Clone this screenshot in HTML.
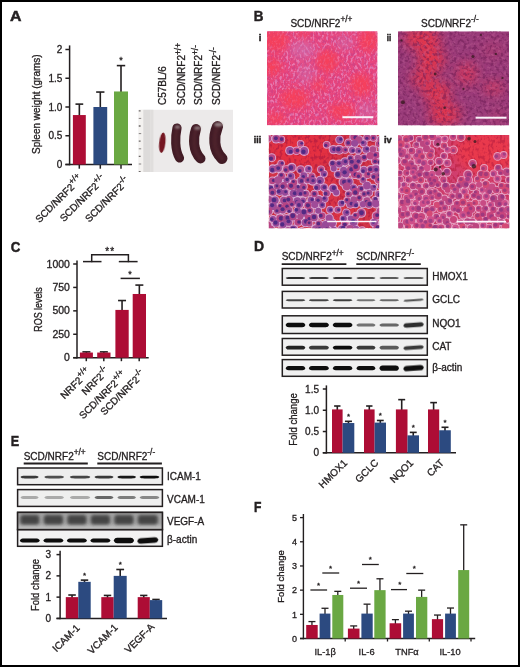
<!DOCTYPE html>
<html><head><meta charset="utf-8"><style>
html,body{margin:0;padding:0;background:#fff;}
#fig{position:relative;width:520px;height:667px;overflow:hidden;}
svg{display:block;font-family:"Liberation Sans", Arial, sans-serif;}
</style></head><body><div id="fig">
<svg width="520" height="667" viewBox="0 0 520 667">
<defs>
<filter id="bb" x="-20%" y="-150%" width="140%" height="400%"><feGaussianBlur stdDeviation="0.55"/></filter>
<filter id="b1" x="-50%" y="-50%" width="200%" height="200%"><feGaussianBlur stdDeviation="0.8"/></filter>
<filter id="b04" x="-20%" y="-20%" width="140%" height="140%"><feGaussianBlur stdDeviation="0.4"/></filter>
<filter id="bsp" filterUnits="userSpaceOnUse" x="130" y="100" width="110" height="80"><feGaussianBlur stdDeviation="0.45"/></filter>
<filter id="bsp2" filterUnits="userSpaceOnUse" x="130" y="100" width="110" height="80"><feGaussianBlur stdDeviation="0.9"/></filter>
<filter id="b05"><feGaussianBlur stdDeviation="0.55"/></filter>
<filter id="bl3" x="-50%" y="-50%" width="200%" height="200%"><feGaussianBlur stdDeviation="6"/></filter>
<filter id="bl2" x="-50%" y="-50%" width="200%" height="200%"><feGaussianBlur stdDeviation="3.5"/></filter>
<filter id="t1d" x="0" y="0" width="100%" height="100%" color-interpolation-filters="sRGB">
 <feTurbulence type="fractalNoise" baseFrequency="0.45 0.3" numOctaves="2" seed="4"/>
 <feColorMatrix type="matrix" values="0 0 0 0 0.72  0 0 0 0 0.25  0 0 0 0 0.55  5 0 0 0 -2.4"/>
</filter>
<filter id="t1l" x="0" y="0" width="100%" height="100%" color-interpolation-filters="sRGB">
 <feTurbulence type="fractalNoise" baseFrequency="0.45 0.3" numOctaves="2" seed="9"/>
 <feColorMatrix type="matrix" values="0 0 0 0 0.92  0 0 0 0 0.68  0 0 0 0 0.88  5 0 0 0 -2.5"/>
</filter>
<filter id="t2d" x="0" y="0" width="100%" height="100%" color-interpolation-filters="sRGB">
 <feTurbulence type="fractalNoise" baseFrequency="0.3" numOctaves="2" seed="7"/>
 <feColorMatrix type="matrix" values="0 0 0 0 0.42  0 0 0 0 0.1  0 0 0 0 0.32  5 0 0 0 -2.4"/>
</filter>
<filter id="t2l" x="0" y="0" width="100%" height="100%" color-interpolation-filters="sRGB">
 <feTurbulence type="fractalNoise" baseFrequency="0.3" numOctaves="2" seed="11"/>
 <feColorMatrix type="matrix" values="0 0 0 0 0.8  0 0 0 0 0.42  0 0 0 0 0.62  5 0 0 0 -2.6"/>
</filter>
<filter id="t3" x="0" y="0" width="100%" height="100%" color-interpolation-filters="sRGB">
 <feTurbulence type="fractalNoise" baseFrequency="0.35 0.25" numOctaves="2" seed="13"/>
 <feColorMatrix type="matrix" values="0 0 0 0 0.72  0 0 0 0 0.12  0 0 0 0 0.25  5 0 0 0 -2.4"/>
</filter>
<clipPath id="cvegf"><rect x="17.6" y="512.4" width="144.8" height="17.2"/></clipPath>
<filter id="b15" x="-30%" y="-50%" width="160%" height="200%"><feGaussianBlur stdDeviation="1.6"/></filter>
<clipPath id="cphoto"><rect x="138.4" y="109.6" width="94.6" height="62.4"/></clipPath>
<clipPath id="ci"><rect x="267" y="31.2" width="110.5" height="94.1"/></clipPath>
<clipPath id="cii"><rect x="398" y="31.3" width="111" height="94.2"/></clipPath>
<clipPath id="ciii"><rect x="268.8" y="134.9" width="110.4" height="93.4"/></clipPath>
<clipPath id="civ"><rect x="398.3" y="134.9" width="111" height="93.4"/></clipPath>
</defs>
<rect x="0" y="0" width="520" height="667" fill="#fff"/>
<text x="10" y="21.2" font-size="15.3" text-anchor="start" font-weight="bold" fill="#231f20" stroke="#231f20" stroke-width="0.5" textLength="11.5" lengthAdjust="spacingAndGlyphs">A</text>
<line x1="69.6" y1="45.4" x2="69.6" y2="165.3" stroke="#231f20" stroke-width="1.5"/>
<line x1="65.4" y1="49.5" x2="69.6" y2="49.5" stroke="#231f20" stroke-width="1.5"/>
<text x="62.3" y="53.1" font-size="10" text-anchor="end" font-weight="normal" fill="#231f20" stroke="#231f20" stroke-width="0.32">2</text>
<line x1="65.4" y1="78.25" x2="69.6" y2="78.25" stroke="#231f20" stroke-width="1.5"/>
<text x="62.3" y="81.85" font-size="10" text-anchor="end" font-weight="normal" fill="#231f20" stroke="#231f20" stroke-width="0.32">1.5</text>
<line x1="65.4" y1="107" x2="69.6" y2="107" stroke="#231f20" stroke-width="1.5"/>
<text x="62.3" y="110.6" font-size="10" text-anchor="end" font-weight="normal" fill="#231f20" stroke="#231f20" stroke-width="0.32">1.0</text>
<line x1="65.4" y1="135.75" x2="69.6" y2="135.75" stroke="#231f20" stroke-width="1.5"/>
<text x="62.3" y="139.35" font-size="10" text-anchor="end" font-weight="normal" fill="#231f20" stroke="#231f20" stroke-width="0.32">0.5</text>
<line x1="65.4" y1="164.5" x2="69.6" y2="164.5" stroke="#231f20" stroke-width="1.5"/>
<text x="62.3" y="168.1" font-size="10" text-anchor="end" font-weight="normal" fill="#231f20" stroke="#231f20" stroke-width="0.32">0</text>
<line x1="65.4" y1="164.5" x2="132" y2="164.5" stroke="#231f20" stroke-width="1.5"/>
<line x1="79.3" y1="164.5" x2="79.3" y2="168.7" stroke="#231f20" stroke-width="1.5"/>
<line x1="100.3" y1="164.5" x2="100.3" y2="168.7" stroke="#231f20" stroke-width="1.5"/>
<line x1="121" y1="164.5" x2="121" y2="168.7" stroke="#231f20" stroke-width="1.5"/>
<line x1="79.35" y1="116.05" x2="79.35" y2="104.12" stroke="#231f20" stroke-width="1.6"/>
<line x1="75.48" y1="104.12" x2="83.22" y2="104.12" stroke="#231f20" stroke-width="1.6"/>
<rect x="72.9" y="115.05" width="12.9" height="49.45" fill="#ad0d35"/>
<line x1="100.3" y1="108" x2="100.3" y2="92.05" stroke="#231f20" stroke-width="1.6"/>
<line x1="96.16" y1="92.05" x2="104.44" y2="92.05" stroke="#231f20" stroke-width="1.6"/>
<rect x="93.4" y="107" width="13.8" height="57.5" fill="#2c4a80"/>
<line x1="121" y1="92.47" x2="121" y2="65.6" stroke="#231f20" stroke-width="1.6"/>
<line x1="116.8" y1="65.6" x2="125.2" y2="65.6" stroke="#231f20" stroke-width="1.6"/>
<rect x="114" y="91.47" width="14" height="73.03" fill="#6aa843"/>
<text x="121" y="63" font-size="9" text-anchor="middle" font-weight="normal" fill="#231f20" stroke="#231f20" stroke-width="0.32">*</text>
<text x="40.3" y="154" font-size="10" text-anchor="start" font-weight="normal" fill="#231f20" stroke="#231f20" stroke-width="0.32" transform="rotate(-90 40.3 154)" textLength="99.5" lengthAdjust="spacingAndGlyphs">Spleen weight (grams)</text>
<text x="39.5" y="223.2" font-size="10" text-anchor="start" font-weight="normal" fill="#231f20" stroke="#231f20" stroke-width="0.32" transform="rotate(-45 39.5 223.2)">SCD/NRF2<tspan dy="-4.5" font-size="8.3">+/+</tspan></text>
<text x="63.9" y="222.2" font-size="10" text-anchor="start" font-weight="normal" fill="#231f20" stroke="#231f20" stroke-width="0.32" transform="rotate(-45 63.9 222.2)">SCD/NRF2<tspan dy="-4.5" font-size="8.3">+/-</tspan></text>
<text x="89.2" y="222.7" font-size="10" text-anchor="start" font-weight="normal" fill="#231f20" stroke="#231f20" stroke-width="0.32" transform="rotate(-45 89.2 222.7)">SCD/NRF2<tspan dy="-4.5" font-size="8.3">-/-</tspan></text>
<text x="166.3" y="105" font-size="10" text-anchor="start" font-weight="normal" fill="#231f20" stroke="#231f20" stroke-width="0.32" transform="rotate(-90 166.3 105)">C57BL/6</text>
<text x="185.2" y="105" font-size="10" text-anchor="start" font-weight="normal" fill="#231f20" stroke="#231f20" stroke-width="0.32" transform="rotate(-90 185.2 105)">SCD/NRF2<tspan dy="-4.5" font-size="8.3">+/+</tspan></text>
<text x="202.2" y="105" font-size="10" text-anchor="start" font-weight="normal" fill="#231f20" stroke="#231f20" stroke-width="0.32" transform="rotate(-90 202.2 105)">SCD/NRF2<tspan dy="-4.5" font-size="8.3">+/-</tspan></text>
<text x="220.2" y="105" font-size="10" text-anchor="start" font-weight="normal" fill="#231f20" stroke="#231f20" stroke-width="0.32" transform="rotate(-90 220.2 105)">SCD/NRF2<tspan dy="-4.5" font-size="8.3">-/-</tspan></text>
<g clip-path="url(#cphoto)">
<rect x="138.4" y="109.6" width="94.6" height="62.4" fill="#eceaea"/>
<rect x="138.4" y="109.6" width="5" height="62.4" fill="#f4f2f0"/>
<rect x="143.4" y="109.6" width="7" height="62.4" fill="#dddbda"/>
<rect x="150.4" y="109.6" width="3" height="62.4" fill="#e0dedd"/>
<line x1="138.6" y1="110.8" x2="140.6" y2="110.8" stroke="#6a6666" stroke-width="1.3"/>
<line x1="138.6" y1="118.4" x2="141.2" y2="118.4" stroke="#6a6666" stroke-width="0.8"/>
<line x1="138.6" y1="126" x2="140.6" y2="126" stroke="#6a6666" stroke-width="1.3"/>
<line x1="138.6" y1="133.6" x2="141.2" y2="133.6" stroke="#6a6666" stroke-width="0.8"/>
<line x1="138.6" y1="141.2" x2="140.6" y2="141.2" stroke="#6a6666" stroke-width="1.3"/>
<line x1="138.6" y1="148.8" x2="141.2" y2="148.8" stroke="#6a6666" stroke-width="0.8"/>
<line x1="138.6" y1="156.4" x2="140.6" y2="156.4" stroke="#6a6666" stroke-width="1.3"/>
<line x1="138.6" y1="164" x2="141.2" y2="164" stroke="#6a6666" stroke-width="0.8"/>
<line x1="138.6" y1="171.6" x2="140.6" y2="171.6" stroke="#6a6666" stroke-width="1.3"/>
</g>
<ellipse cx="162.3" cy="142.7" rx="3.1" ry="10.3" transform="rotate(6 162.3 142.7)" fill="#741820" filter="url(#b04)"/>
<path d="M177,128 C175,137 174.8,150 179.5,158" fill="none" stroke="#431d25" stroke-width="9.2" stroke-linecap="round" filter="url(#bsp)"/>
<path d="M177,128 C175,137 174.8,150 179.5,158" fill="none" stroke="#5a2a32" stroke-width="3.2199999999999998" stroke-linecap="round" opacity="0.5" filter="url(#bsp2)"/>
<path d="M196,129 C193,138 192.8,151 200.5,158.5" fill="none" stroke="#431d25" stroke-width="10" stroke-linecap="round" filter="url(#bsp)"/>
<path d="M196,129 C193,138 192.8,151 200.5,158.5" fill="none" stroke="#5a2a32" stroke-width="3.5" stroke-linecap="round" opacity="0.5" filter="url(#bsp2)"/>
<path d="M217.5,126.5 C213.5,136 213,150 222,158.5" fill="none" stroke="#431d25" stroke-width="11" stroke-linecap="round" filter="url(#bsp)"/>
<path d="M217.5,126.5 C213.5,136 213,150 222,158.5" fill="none" stroke="#5a2a32" stroke-width="3.8499999999999996" stroke-linecap="round" opacity="0.5" filter="url(#bsp2)"/>
<ellipse cx="177.5" cy="127" rx="2.8" ry="1.6" fill="#a89a9c" opacity="0.8" filter="url(#b1)"/>
<ellipse cx="197.5" cy="128" rx="3.3" ry="1.6" fill="#a89a9c" opacity="0.8" filter="url(#b1)"/>
<ellipse cx="218.5" cy="124.5" rx="4.2" ry="2" fill="#a89a9c" opacity="0.8" filter="url(#b1)"/>
<text x="253.8" y="21.2" font-size="15.3" text-anchor="start" font-weight="bold" fill="#231f20" stroke="#231f20" stroke-width="0.5" textLength="9.7" lengthAdjust="spacingAndGlyphs">B</text>
<text x="290.4" y="26.6" font-size="10" text-anchor="start" font-weight="normal" fill="#231f20" stroke="#231f20" stroke-width="0.32">SCD/NRF2<tspan dy="-4.5" font-size="8.3">+/+</tspan></text>
<text x="421" y="26.6" font-size="10" text-anchor="start" font-weight="normal" fill="#231f20" stroke="#231f20" stroke-width="0.32">SCD/NRF2<tspan dy="-4.5" font-size="8.3">-/-</tspan></text>
<text x="258.7" y="40.7" font-size="9.3" text-anchor="start" font-weight="bold" fill="#231f20" stroke="#231f20" stroke-width="0.5">i</text>
<text x="386.8" y="40.7" font-size="9.3" text-anchor="start" font-weight="bold" fill="#231f20" stroke="#231f20" stroke-width="0.5" textLength="4.4" lengthAdjust="spacingAndGlyphs">ii</text>
<text x="253.8" y="142.8" font-size="9.3" text-anchor="start" font-weight="bold" fill="#231f20" stroke="#231f20" stroke-width="0.5" textLength="7.3" lengthAdjust="spacingAndGlyphs">iii</text>
<text x="384" y="142.8" font-size="9.3" text-anchor="start" font-weight="bold" fill="#231f20" stroke="#231f20" stroke-width="0.5" textLength="7.7" lengthAdjust="spacingAndGlyphs">iv</text>
<g clip-path="url(#ci)">
<rect x="267" y="31.2" width="110.5" height="94.1" fill="#e8467e"/>
<rect x="267" y="31.2" width="110.5" height="94.1" filter="url(#t1d)" opacity="0.3"/>
<rect x="267" y="31.2" width="110.5" height="94.1" filter="url(#t1l)" opacity="0.42"/>
<g filter="url(#bl2)">
<ellipse cx="275.84" cy="40.61" rx="13.26" ry="11.29" fill="#f6405c" opacity="1"/>
<ellipse cx="368.66" cy="40.61" rx="9.95" ry="11.29" fill="#f6405c" opacity="1"/>
<ellipse cx="272.52" cy="66.96" rx="8.84" ry="9.41" fill="#f6405c" opacity="1"/>
<ellipse cx="327.77" cy="61.31" rx="11.05" ry="11.29" fill="#f6405c" opacity="1"/>
<ellipse cx="360.93" cy="84.84" rx="11.05" ry="11.29" fill="#f6405c" opacity="1"/>
<ellipse cx="294.62" cy="98.95" rx="14.37" ry="10.35" fill="#f6405c" opacity="1"/>
<ellipse cx="318.94" cy="84.84" rx="7.74" ry="6.59" fill="#f6405c" opacity="0.9"/>
<ellipse cx="342.14" cy="111.19" rx="13.26" ry="8.47" fill="#f6405c" opacity="1"/>
<ellipse cx="275.84" cy="118.71" rx="11.05" ry="6.59" fill="#f6405c" opacity="0.9"/>
<ellipse cx="303.47" cy="34.96" rx="7.74" ry="4.71" fill="#f6405c" opacity="0.8"/>
<ellipse cx="302.36" cy="50.02" rx="13.26" ry="9.41" fill="#d070b0" opacity="0.6"/>
<ellipse cx="305.68" cy="73.55" rx="8.84" ry="9.41" fill="#d070b0" opacity="0.5"/>
<ellipse cx="344.35" cy="42.49" rx="8.84" ry="6.59" fill="#d070b0" opacity="0.5"/>
<ellipse cx="366.45" cy="111.19" rx="8.84" ry="9.41" fill="#d070b0" opacity="0.5"/>
</g>
<rect x="267" y="31.2" width="110.5" height="94.1" filter="url(#t1l)" opacity="0.18"/>
<rect x="267" y="31.2" width="110.5" height="94.1" filter="url(#t1d)" opacity="0.15"/>
</g>
<g clip-path="url(#cii)">
<rect x="398" y="31.3" width="111" height="94.2" fill="#9a3c7a"/>
<g filter="url(#bl3)">
<ellipse cx="422.42" cy="38.84" rx="17.76" ry="11.3" fill="#e0344e" opacity="1"/>
<ellipse cx="431.3" cy="59.56" rx="13.32" ry="13.19" fill="#e0344e" opacity="1"/>
<ellipse cx="422.42" cy="78.4" rx="11.1" ry="9.42" fill="#e0344e" opacity="0.9"/>
<ellipse cx="436.85" cy="92.53" rx="13.32" ry="11.3" fill="#e0344e" opacity="1"/>
<ellipse cx="444.62" cy="114.2" rx="15.54" ry="11.3" fill="#e0344e" opacity="1"/>
<ellipse cx="466.82" cy="73.69" rx="9.99" ry="11.3" fill="#d8385a" opacity="0.9"/>
<ellipse cx="493.46" cy="87.82" rx="9.99" ry="6.59" fill="#d8385a" opacity="0.85"/>
<ellipse cx="497.9" cy="116.08" rx="6.66" ry="7.54" fill="#c83a60" opacity="0.4"/>
<ellipse cx="492.35" cy="50.14" rx="11.1" ry="7.54" fill="#b83a6a" opacity="0.5"/>
</g>
<rect x="398" y="31.3" width="111" height="94.2" filter="url(#t2d)" opacity="0.5"/>
<rect x="398" y="31.3" width="111" height="94.2" filter="url(#t2l)" opacity="0.3"/>
</g>
<g clip-path="url(#ciii)">
<rect x="268.8" y="134.9" width="110.4" height="93.4" fill="#d23448"/>
<g filter="url(#bl3)">
<ellipse cx="301.92" cy="149.84" rx="33.12" ry="18.68" fill="#e83040" opacity="0.85"/>
<ellipse cx="329.52" cy="186.27" rx="11.04" ry="14.01" fill="#e43444" opacity="0.6"/>
<ellipse cx="340.56" cy="214.29" rx="16.56" ry="11.21" fill="#e43444" opacity="0.6"/>
</g>
<rect x="268.8" y="134.9" width="110.4" height="93.4" filter="url(#t3)" opacity="0.8"/>
<g filter="url(#b05)">
<circle cx="267.88" cy="138.45" r="4.17" fill="#dcb8e4" opacity="0.85"/>
<circle cx="276.16" cy="138.74" r="4.81" fill="#dcb8e4" opacity="0.85"/>
<circle cx="281.1" cy="139.48" r="4.07" fill="#dcb8e4" opacity="0.85"/>
<circle cx="339.55" cy="139.77" r="4.3" fill="#dcb8e4" opacity="0.85"/>
<circle cx="354.13" cy="136.89" r="4.86" fill="#dcb8e4" opacity="0.85"/>
<circle cx="358.81" cy="139.93" r="4.75" fill="#dcb8e4" opacity="0.85"/>
<circle cx="367.24" cy="137.6" r="4.09" fill="#dcb8e4" opacity="0.85"/>
<circle cx="373.4" cy="137.78" r="4.02" fill="#dcb8e4" opacity="0.85"/>
<circle cx="381.09" cy="139.71" r="4.75" fill="#dcb8e4" opacity="0.85"/>
<circle cx="300.56" cy="143.64" r="3.71" fill="#dcb8e4" opacity="0.85"/>
<circle cx="326.7" cy="144.79" r="3.87" fill="#dcb8e4" opacity="0.85"/>
<circle cx="348.63" cy="142.91" r="4.39" fill="#dcb8e4" opacity="0.85"/>
<circle cx="354.66" cy="143.33" r="4.4" fill="#dcb8e4" opacity="0.85"/>
<circle cx="363.69" cy="143.19" r="3.92" fill="#dcb8e4" opacity="0.85"/>
<circle cx="378.69" cy="143.96" r="3.76" fill="#dcb8e4" opacity="0.85"/>
<circle cx="384.37" cy="144.89" r="3.97" fill="#dcb8e4" opacity="0.85"/>
<circle cx="289.87" cy="150.65" r="4.7" fill="#dcb8e4" opacity="0.85"/>
<circle cx="296.5" cy="150.76" r="4.31" fill="#dcb8e4" opacity="0.85"/>
<circle cx="304.21" cy="150.94" r="4.98" fill="#dcb8e4" opacity="0.85"/>
<circle cx="333.42" cy="149.61" r="4.72" fill="#dcb8e4" opacity="0.85"/>
<circle cx="339.12" cy="149.85" r="4.98" fill="#dcb8e4" opacity="0.85"/>
<circle cx="345.14" cy="150.02" r="3.75" fill="#dcb8e4" opacity="0.85"/>
<circle cx="352.1" cy="150.05" r="3.94" fill="#dcb8e4" opacity="0.85"/>
<circle cx="358.14" cy="150.72" r="3.72" fill="#dcb8e4" opacity="0.85"/>
<circle cx="366.14" cy="149.51" r="4.26" fill="#dcb8e4" opacity="0.85"/>
<circle cx="372.89" cy="149.39" r="4.14" fill="#dcb8e4" opacity="0.85"/>
<circle cx="381.49" cy="149.09" r="3.77" fill="#dcb8e4" opacity="0.85"/>
<circle cx="271.72" cy="157.74" r="4.41" fill="#dcb8e4" opacity="0.85"/>
<circle cx="350.63" cy="158.27" r="3.82" fill="#dcb8e4" opacity="0.85"/>
<circle cx="357.88" cy="158.07" r="4.11" fill="#dcb8e4" opacity="0.85"/>
<circle cx="364.16" cy="157.75" r="4.02" fill="#dcb8e4" opacity="0.85"/>
<circle cx="370.37" cy="155.83" r="4.75" fill="#dcb8e4" opacity="0.85"/>
<circle cx="376.35" cy="155.06" r="4.25" fill="#dcb8e4" opacity="0.85"/>
<circle cx="383.55" cy="157.66" r="4.04" fill="#dcb8e4" opacity="0.85"/>
<circle cx="281.1" cy="163.52" r="3.76" fill="#dcb8e4" opacity="0.85"/>
<circle cx="332.87" cy="163.79" r="4.26" fill="#dcb8e4" opacity="0.85"/>
<circle cx="339.25" cy="163.93" r="4.52" fill="#dcb8e4" opacity="0.85"/>
<circle cx="345" cy="161.85" r="4.58" fill="#dcb8e4" opacity="0.85"/>
<circle cx="352.53" cy="162.57" r="4.89" fill="#dcb8e4" opacity="0.85"/>
<circle cx="358.06" cy="161.1" r="4.75" fill="#dcb8e4" opacity="0.85"/>
<circle cx="375.04" cy="161.21" r="4.02" fill="#dcb8e4" opacity="0.85"/>
<circle cx="380.16" cy="162.01" r="3.88" fill="#dcb8e4" opacity="0.85"/>
<circle cx="272.81" cy="169.05" r="4.69" fill="#dcb8e4" opacity="0.85"/>
<circle cx="278.22" cy="168.15" r="4.73" fill="#dcb8e4" opacity="0.85"/>
<circle cx="286.49" cy="169.51" r="4.36" fill="#dcb8e4" opacity="0.85"/>
<circle cx="291.83" cy="167.62" r="4.78" fill="#dcb8e4" opacity="0.85"/>
<circle cx="300.67" cy="169.74" r="4.42" fill="#dcb8e4" opacity="0.85"/>
<circle cx="308.35" cy="169.18" r="4.06" fill="#dcb8e4" opacity="0.85"/>
<circle cx="321.02" cy="169.43" r="3.92" fill="#dcb8e4" opacity="0.85"/>
<circle cx="333.8" cy="168.49" r="3.72" fill="#dcb8e4" opacity="0.85"/>
<circle cx="343.63" cy="170.28" r="4.54" fill="#dcb8e4" opacity="0.85"/>
<circle cx="350.69" cy="169.77" r="4.87" fill="#dcb8e4" opacity="0.85"/>
<circle cx="356.17" cy="167.43" r="4.88" fill="#dcb8e4" opacity="0.85"/>
<circle cx="363.87" cy="170.11" r="4.31" fill="#dcb8e4" opacity="0.85"/>
<circle cx="370.89" cy="169.57" r="4.57" fill="#dcb8e4" opacity="0.85"/>
<circle cx="375.91" cy="169.06" r="4.91" fill="#dcb8e4" opacity="0.85"/>
<circle cx="383.05" cy="169.71" r="4.76" fill="#dcb8e4" opacity="0.85"/>
<circle cx="281.47" cy="176.04" r="4.49" fill="#dcb8e4" opacity="0.85"/>
<circle cx="290.98" cy="176.42" r="4.24" fill="#dcb8e4" opacity="0.85"/>
<circle cx="303.84" cy="175.59" r="4.38" fill="#dcb8e4" opacity="0.85"/>
<circle cx="311.67" cy="176.36" r="3.92" fill="#dcb8e4" opacity="0.85"/>
<circle cx="323.9" cy="173.72" r="3.94" fill="#dcb8e4" opacity="0.85"/>
<circle cx="338.34" cy="174.48" r="4.59" fill="#dcb8e4" opacity="0.85"/>
<circle cx="345.51" cy="173.38" r="4.99" fill="#dcb8e4" opacity="0.85"/>
<circle cx="354.46" cy="174.53" r="4.41" fill="#dcb8e4" opacity="0.85"/>
<circle cx="358.61" cy="175.51" r="4.23" fill="#dcb8e4" opacity="0.85"/>
<circle cx="367.41" cy="174.9" r="4.16" fill="#dcb8e4" opacity="0.85"/>
<circle cx="374.3" cy="176.23" r="4.29" fill="#dcb8e4" opacity="0.85"/>
<circle cx="379.39" cy="175.71" r="4.75" fill="#dcb8e4" opacity="0.85"/>
<circle cx="272.36" cy="180.73" r="4.29" fill="#dcb8e4" opacity="0.85"/>
<circle cx="278.2" cy="180.12" r="4.95" fill="#dcb8e4" opacity="0.85"/>
<circle cx="286.6" cy="180.28" r="3.9" fill="#dcb8e4" opacity="0.85"/>
<circle cx="293.97" cy="182.52" r="4.11" fill="#dcb8e4" opacity="0.85"/>
<circle cx="301.02" cy="180.63" r="4.38" fill="#dcb8e4" opacity="0.85"/>
<circle cx="307.6" cy="180.12" r="4.24" fill="#dcb8e4" opacity="0.85"/>
<circle cx="312.63" cy="180.86" r="4.81" fill="#dcb8e4" opacity="0.85"/>
<circle cx="320.15" cy="180.44" r="4.78" fill="#dcb8e4" opacity="0.85"/>
<circle cx="343.47" cy="182.06" r="4.92" fill="#dcb8e4" opacity="0.85"/>
<circle cx="349.23" cy="181.7" r="4.5" fill="#dcb8e4" opacity="0.85"/>
<circle cx="363.19" cy="179.98" r="3.74" fill="#dcb8e4" opacity="0.85"/>
<circle cx="378.54" cy="180.03" r="4.45" fill="#dcb8e4" opacity="0.85"/>
<circle cx="383.46" cy="179.84" r="4.42" fill="#dcb8e4" opacity="0.85"/>
<circle cx="270.06" cy="188.42" r="4.34" fill="#dcb8e4" opacity="0.85"/>
<circle cx="277.08" cy="186.37" r="4.06" fill="#dcb8e4" opacity="0.85"/>
<circle cx="283.6" cy="185.57" r="4.63" fill="#dcb8e4" opacity="0.85"/>
<circle cx="290.97" cy="186.29" r="4.89" fill="#dcb8e4" opacity="0.85"/>
<circle cx="297.08" cy="187.63" r="3.83" fill="#dcb8e4" opacity="0.85"/>
<circle cx="303.22" cy="186.8" r="4.57" fill="#dcb8e4" opacity="0.85"/>
<circle cx="317.42" cy="187.18" r="4.18" fill="#dcb8e4" opacity="0.85"/>
<circle cx="324.01" cy="187.6" r="4.37" fill="#dcb8e4" opacity="0.85"/>
<circle cx="333.16" cy="188.45" r="4.87" fill="#dcb8e4" opacity="0.85"/>
<circle cx="346.7" cy="186.3" r="4.95" fill="#dcb8e4" opacity="0.85"/>
<circle cx="353.34" cy="188.09" r="4.54" fill="#dcb8e4" opacity="0.85"/>
<circle cx="360.69" cy="188.63" r="3.95" fill="#dcb8e4" opacity="0.85"/>
<circle cx="366.93" cy="185.67" r="4.9" fill="#dcb8e4" opacity="0.85"/>
<circle cx="373.28" cy="187.78" r="3.94" fill="#dcb8e4" opacity="0.85"/>
<circle cx="381.03" cy="185.91" r="4.2" fill="#dcb8e4" opacity="0.85"/>
<circle cx="272.76" cy="191.99" r="4.78" fill="#dcb8e4" opacity="0.85"/>
<circle cx="279.84" cy="191.79" r="4.11" fill="#dcb8e4" opacity="0.85"/>
<circle cx="285.04" cy="192.52" r="4.05" fill="#dcb8e4" opacity="0.85"/>
<circle cx="293.64" cy="193.3" r="4.94" fill="#dcb8e4" opacity="0.85"/>
<circle cx="300.15" cy="192.45" r="4.93" fill="#dcb8e4" opacity="0.85"/>
<circle cx="305.79" cy="193.87" r="4.11" fill="#dcb8e4" opacity="0.85"/>
<circle cx="314.45" cy="193.95" r="4.21" fill="#dcb8e4" opacity="0.85"/>
<circle cx="326.7" cy="193.13" r="4.07" fill="#dcb8e4" opacity="0.85"/>
<circle cx="336.24" cy="192.6" r="3.87" fill="#dcb8e4" opacity="0.85"/>
<circle cx="348.79" cy="194.32" r="4.03" fill="#dcb8e4" opacity="0.85"/>
<circle cx="355.5" cy="191.71" r="4.98" fill="#dcb8e4" opacity="0.85"/>
<circle cx="364.28" cy="193.91" r="3.8" fill="#dcb8e4" opacity="0.85"/>
<circle cx="369.21" cy="192.82" r="4" fill="#dcb8e4" opacity="0.85"/>
<circle cx="378.41" cy="193.98" r="3.96" fill="#dcb8e4" opacity="0.85"/>
<circle cx="383.06" cy="192.75" r="3.8" fill="#dcb8e4" opacity="0.85"/>
<circle cx="268.9" cy="199.44" r="4.39" fill="#dcb8e4" opacity="0.85"/>
<circle cx="274.93" cy="200.19" r="4.67" fill="#dcb8e4" opacity="0.85"/>
<circle cx="283.86" cy="200.57" r="4.79" fill="#dcb8e4" opacity="0.85"/>
<circle cx="289.39" cy="199.38" r="4.52" fill="#dcb8e4" opacity="0.85"/>
<circle cx="297.27" cy="200.87" r="4.77" fill="#dcb8e4" opacity="0.85"/>
<circle cx="303.1" cy="200.46" r="3.71" fill="#dcb8e4" opacity="0.85"/>
<circle cx="311.15" cy="199.99" r="4.07" fill="#dcb8e4" opacity="0.85"/>
<circle cx="318.75" cy="199.77" r="4.95" fill="#dcb8e4" opacity="0.85"/>
<circle cx="324.88" cy="199.06" r="3.79" fill="#dcb8e4" opacity="0.85"/>
<circle cx="347.41" cy="200.57" r="4.05" fill="#dcb8e4" opacity="0.85"/>
<circle cx="353.82" cy="199.63" r="4.33" fill="#dcb8e4" opacity="0.85"/>
<circle cx="359.31" cy="198.27" r="4.05" fill="#dcb8e4" opacity="0.85"/>
<circle cx="366.94" cy="200.7" r="4.41" fill="#dcb8e4" opacity="0.85"/>
<circle cx="375.1" cy="199.88" r="3.76" fill="#dcb8e4" opacity="0.85"/>
<circle cx="382.05" cy="199.55" r="4.01" fill="#dcb8e4" opacity="0.85"/>
<circle cx="273.06" cy="206.13" r="4.95" fill="#dcb8e4" opacity="0.85"/>
<circle cx="280.37" cy="206.8" r="3.89" fill="#dcb8e4" opacity="0.85"/>
<circle cx="286.08" cy="206.19" r="4.88" fill="#dcb8e4" opacity="0.85"/>
<circle cx="291.93" cy="203.69" r="3.93" fill="#dcb8e4" opacity="0.85"/>
<circle cx="299.25" cy="204.1" r="5" fill="#dcb8e4" opacity="0.85"/>
<circle cx="308" cy="205.42" r="4.58" fill="#dcb8e4" opacity="0.85"/>
<circle cx="314.82" cy="204.61" r="4.54" fill="#dcb8e4" opacity="0.85"/>
<circle cx="322.2" cy="204.95" r="3.88" fill="#dcb8e4" opacity="0.85"/>
<circle cx="341.33" cy="203.55" r="3.77" fill="#dcb8e4" opacity="0.85"/>
<circle cx="350.29" cy="204.04" r="4.69" fill="#dcb8e4" opacity="0.85"/>
<circle cx="355.23" cy="204.27" r="3.93" fill="#dcb8e4" opacity="0.85"/>
<circle cx="362.96" cy="204.13" r="3.95" fill="#dcb8e4" opacity="0.85"/>
<circle cx="368.94" cy="204.13" r="4.77" fill="#dcb8e4" opacity="0.85"/>
<circle cx="375.76" cy="203.62" r="4.84" fill="#dcb8e4" opacity="0.85"/>
<circle cx="383.98" cy="206" r="3.76" fill="#dcb8e4" opacity="0.85"/>
<circle cx="268.46" cy="211.02" r="4.95" fill="#dcb8e4" opacity="0.85"/>
<circle cx="277.43" cy="210.4" r="4.4" fill="#dcb8e4" opacity="0.85"/>
<circle cx="282.71" cy="210.21" r="4.2" fill="#dcb8e4" opacity="0.85"/>
<circle cx="289.26" cy="210.06" r="3.84" fill="#dcb8e4" opacity="0.85"/>
<circle cx="297.6" cy="210.59" r="4.21" fill="#dcb8e4" opacity="0.85"/>
<circle cx="303.68" cy="212.9" r="4.99" fill="#dcb8e4" opacity="0.85"/>
<circle cx="309.92" cy="210.56" r="4.07" fill="#dcb8e4" opacity="0.85"/>
<circle cx="318.25" cy="210.84" r="3.87" fill="#dcb8e4" opacity="0.85"/>
<circle cx="330.06" cy="209.74" r="3.89" fill="#dcb8e4" opacity="0.85"/>
<circle cx="337.65" cy="209.76" r="3.86" fill="#dcb8e4" opacity="0.85"/>
<circle cx="346.34" cy="212.78" r="4.16" fill="#dcb8e4" opacity="0.85"/>
<circle cx="361.26" cy="212.92" r="4.89" fill="#dcb8e4" opacity="0.85"/>
<circle cx="379.45" cy="210.99" r="3.8" fill="#dcb8e4" opacity="0.85"/>
<circle cx="272.93" cy="218.97" r="3.95" fill="#dcb8e4" opacity="0.85"/>
<circle cx="280.14" cy="218.29" r="4.93" fill="#dcb8e4" opacity="0.85"/>
<circle cx="286.49" cy="218.95" r="5" fill="#dcb8e4" opacity="0.85"/>
<circle cx="293" cy="216.52" r="4.98" fill="#dcb8e4" opacity="0.85"/>
<circle cx="300.23" cy="216.66" r="4.02" fill="#dcb8e4" opacity="0.85"/>
<circle cx="308.07" cy="217.84" r="4.16" fill="#dcb8e4" opacity="0.85"/>
<circle cx="313.9" cy="217.42" r="4.94" fill="#dcb8e4" opacity="0.85"/>
<circle cx="322.04" cy="215.8" r="4.33" fill="#dcb8e4" opacity="0.85"/>
<circle cx="329.2" cy="218.09" r="4.62" fill="#dcb8e4" opacity="0.85"/>
<circle cx="343.62" cy="218.77" r="4.11" fill="#dcb8e4" opacity="0.85"/>
<circle cx="350.69" cy="218.29" r="3.73" fill="#dcb8e4" opacity="0.85"/>
<circle cx="355.85" cy="215.97" r="4.15" fill="#dcb8e4" opacity="0.85"/>
<circle cx="376.39" cy="215.89" r="4.68" fill="#dcb8e4" opacity="0.85"/>
<circle cx="384.81" cy="217.77" r="4.72" fill="#dcb8e4" opacity="0.85"/>
<circle cx="267.85" cy="225.2" r="4.44" fill="#dcb8e4" opacity="0.85"/>
<circle cx="276.02" cy="223.28" r="4.31" fill="#dcb8e4" opacity="0.85"/>
<circle cx="283.17" cy="224.57" r="4.4" fill="#dcb8e4" opacity="0.85"/>
<circle cx="288.71" cy="222.43" r="4.28" fill="#dcb8e4" opacity="0.85"/>
<circle cx="297.94" cy="222.2" r="4.4" fill="#dcb8e4" opacity="0.85"/>
<circle cx="305.43" cy="222.51" r="4.79" fill="#dcb8e4" opacity="0.85"/>
<circle cx="309.35" cy="223.44" r="3.96" fill="#dcb8e4" opacity="0.85"/>
<circle cx="318.95" cy="223.96" r="4.48" fill="#dcb8e4" opacity="0.85"/>
<circle cx="325.71" cy="224.86" r="4.92" fill="#dcb8e4" opacity="0.85"/>
<circle cx="332.16" cy="223.37" r="4.81" fill="#dcb8e4" opacity="0.85"/>
<circle cx="344.77" cy="223.7" r="3.93" fill="#dcb8e4" opacity="0.85"/>
<circle cx="353.6" cy="222.08" r="4.96" fill="#dcb8e4" opacity="0.85"/>
<circle cx="374.17" cy="222.56" r="4.8" fill="#dcb8e4" opacity="0.85"/>
<circle cx="382.54" cy="222.98" r="3.92" fill="#dcb8e4" opacity="0.85"/>
<circle cx="270.84" cy="228.66" r="4.05" fill="#dcb8e4" opacity="0.85"/>
<circle cx="280.81" cy="230.44" r="3.96" fill="#dcb8e4" opacity="0.85"/>
<circle cx="288" cy="230.04" r="3.77" fill="#dcb8e4" opacity="0.85"/>
<circle cx="293.43" cy="229.37" r="4.98" fill="#dcb8e4" opacity="0.85"/>
<circle cx="301.71" cy="231.22" r="4.23" fill="#dcb8e4" opacity="0.85"/>
<circle cx="315.77" cy="228.92" r="4.84" fill="#dcb8e4" opacity="0.85"/>
<circle cx="320.2" cy="228.24" r="3.85" fill="#dcb8e4" opacity="0.85"/>
<circle cx="327.58" cy="229.72" r="3.72" fill="#dcb8e4" opacity="0.85"/>
<circle cx="333.69" cy="230.51" r="4.83" fill="#dcb8e4" opacity="0.85"/>
<circle cx="342.06" cy="229.11" r="4.74" fill="#dcb8e4" opacity="0.85"/>
<circle cx="350.16" cy="228.91" r="4.99" fill="#dcb8e4" opacity="0.85"/>
<circle cx="355.6" cy="229.34" r="4.59" fill="#dcb8e4" opacity="0.85"/>
<circle cx="362.09" cy="230.57" r="4.38" fill="#dcb8e4" opacity="0.85"/>
<circle cx="376.85" cy="228.46" r="4.7" fill="#dcb8e4" opacity="0.85"/>
<circle cx="384.17" cy="229.74" r="3.82" fill="#dcb8e4" opacity="0.85"/>
<circle cx="267.88" cy="138.45" r="3.26" fill="#b84484"/>
<circle cx="267.46" cy="138.67" r="1.61" fill="#3e2480" opacity="0.8"/>
<circle cx="276.16" cy="138.74" r="3.76" fill="#b0488a"/>
<circle cx="275.86" cy="138.3" r="1.96" fill="#3e2480" opacity="0.8"/>
<circle cx="281.1" cy="139.48" r="3.18" fill="#b84484"/>
<circle cx="281.63" cy="139.11" r="1.87" fill="#3e2480" opacity="0.8"/>
<circle cx="339.55" cy="139.77" r="3.36" fill="#984898"/>
<circle cx="340.69" cy="139.22" r="1.6" fill="#3e2480" opacity="0.8"/>
<circle cx="354.13" cy="136.89" r="3.79" fill="#b84484"/>
<circle cx="355.32" cy="137.44" r="1.9" fill="#3e2480" opacity="0.8"/>
<circle cx="358.81" cy="139.93" r="3.71" fill="#b0488a"/>
<circle cx="367.24" cy="137.6" r="3.19" fill="#b0488a"/>
<circle cx="366.85" cy="138.3" r="1.55" fill="#3e2480" opacity="0.8"/>
<circle cx="373.4" cy="137.78" r="3.14" fill="#b84484"/>
<circle cx="373.26" cy="138.06" r="1.46" fill="#3e2480" opacity="0.8"/>
<circle cx="381.09" cy="139.71" r="3.71" fill="#b0488a"/>
<circle cx="381.36" cy="139.21" r="1.85" fill="#3e2480" opacity="0.8"/>
<circle cx="300.56" cy="143.64" r="2.9" fill="#b0488a"/>
<circle cx="301.71" cy="143.32" r="1.43" fill="#3e2480" opacity="0.8"/>
<circle cx="326.7" cy="144.79" r="3.02" fill="#b84484"/>
<circle cx="325.79" cy="145.35" r="1.6" fill="#3e2480" opacity="0.8"/>
<circle cx="348.63" cy="142.91" r="3.43" fill="#b84484"/>
<circle cx="348.16" cy="142.92" r="1.82" fill="#3e2480" opacity="0.8"/>
<circle cx="354.66" cy="143.33" r="3.44" fill="#984898"/>
<circle cx="363.69" cy="143.19" r="3.06" fill="#a04c98"/>
<circle cx="362.84" cy="142.51" r="1.6" fill="#3e2480" opacity="0.8"/>
<circle cx="378.69" cy="143.96" r="2.94" fill="#b84484"/>
<circle cx="379.61" cy="143.26" r="1.58" fill="#3e2480" opacity="0.8"/>
<circle cx="384.37" cy="144.89" r="3.1" fill="#a84c90"/>
<circle cx="384.46" cy="145.9" r="1.73" fill="#3e2480" opacity="0.8"/>
<circle cx="289.87" cy="150.65" r="3.68" fill="#984898"/>
<circle cx="290.68" cy="151.64" r="1.98" fill="#3e2480" opacity="0.8"/>
<circle cx="296.5" cy="150.76" r="3.37" fill="#b84484"/>
<circle cx="297.42" cy="150.47" r="1.83" fill="#3e2480" opacity="0.8"/>
<circle cx="304.21" cy="150.94" r="3.89" fill="#984898"/>
<circle cx="303.46" cy="151.72" r="2.22" fill="#3e2480" opacity="0.8"/>
<circle cx="333.42" cy="149.61" r="3.69" fill="#a04c98"/>
<circle cx="334.13" cy="149.33" r="2.02" fill="#3e2480" opacity="0.8"/>
<circle cx="339.12" cy="149.85" r="3.89" fill="#a84c90"/>
<circle cx="338.26" cy="149.14" r="2.24" fill="#3e2480" opacity="0.8"/>
<circle cx="345.14" cy="150.02" r="2.93" fill="#b84484"/>
<circle cx="345.53" cy="149.87" r="1.37" fill="#3e2480" opacity="0.8"/>
<circle cx="352.1" cy="150.05" r="3.08" fill="#a04c98"/>
<circle cx="353.01" cy="150.64" r="1.58" fill="#3e2480" opacity="0.8"/>
<circle cx="358.14" cy="150.72" r="2.9" fill="#a04c98"/>
<circle cx="359.13" cy="151.04" r="1.36" fill="#3e2480" opacity="0.8"/>
<circle cx="366.14" cy="149.51" r="3.33" fill="#984898"/>
<circle cx="367.05" cy="148.85" r="1.71" fill="#3e2480" opacity="0.8"/>
<circle cx="372.89" cy="149.39" r="3.24" fill="#b0488a"/>
<circle cx="381.49" cy="149.09" r="2.94" fill="#a04c98"/>
<circle cx="380.36" cy="150.13" r="1.63" fill="#3e2480" opacity="0.8"/>
<circle cx="271.72" cy="157.74" r="3.45" fill="#b84484"/>
<circle cx="270.95" cy="158.51" r="2.12" fill="#3e2480" opacity="0.8"/>
<circle cx="350.63" cy="158.27" r="2.99" fill="#b84484"/>
<circle cx="350.26" cy="158.17" r="1.92" fill="#3e2480" opacity="0.8"/>
<circle cx="357.88" cy="158.07" r="3.21" fill="#a84c90"/>
<circle cx="357.39" cy="159.03" r="1.53" fill="#3e2480" opacity="0.8"/>
<circle cx="364.16" cy="157.75" r="3.14" fill="#b84484"/>
<circle cx="364.2" cy="157.3" r="1.95" fill="#3e2480" opacity="0.8"/>
<circle cx="370.37" cy="155.83" r="3.71" fill="#b84484"/>
<circle cx="376.35" cy="155.06" r="3.32" fill="#b84484"/>
<circle cx="375.29" cy="154.9" r="1.7" fill="#3e2480" opacity="0.8"/>
<circle cx="383.55" cy="157.66" r="3.16" fill="#a84c90"/>
<circle cx="384.4" cy="156.9" r="1.49" fill="#3e2480" opacity="0.8"/>
<circle cx="281.1" cy="163.52" r="2.93" fill="#b0488a"/>
<circle cx="282.09" cy="163.27" r="1.45" fill="#3e2480" opacity="0.8"/>
<circle cx="332.87" cy="163.79" r="3.33" fill="#a84c90"/>
<circle cx="332.46" cy="163.18" r="2.08" fill="#3e2480" opacity="0.8"/>
<circle cx="339.25" cy="163.93" r="3.53" fill="#a04c98"/>
<circle cx="338.93" cy="163.27" r="1.79" fill="#3e2480" opacity="0.8"/>
<circle cx="345" cy="161.85" r="3.58" fill="#984898"/>
<circle cx="345.47" cy="161.47" r="1.69" fill="#3e2480" opacity="0.8"/>
<circle cx="352.53" cy="162.57" r="3.82" fill="#a84c90"/>
<circle cx="351.75" cy="161.77" r="2.09" fill="#3e2480" opacity="0.8"/>
<circle cx="358.06" cy="161.1" r="3.71" fill="#a84c90"/>
<circle cx="358.47" cy="161.36" r="1.8" fill="#3e2480" opacity="0.8"/>
<circle cx="375.04" cy="161.21" r="3.14" fill="#b84484"/>
<circle cx="375.14" cy="161.45" r="1.81" fill="#3e2480" opacity="0.8"/>
<circle cx="380.16" cy="162.01" r="3.03" fill="#b0488a"/>
<circle cx="379.14" cy="162.1" r="1.64" fill="#3e2480" opacity="0.8"/>
<circle cx="272.81" cy="169.05" r="3.66" fill="#a04c98"/>
<circle cx="272.26" cy="170.01" r="2.15" fill="#3e2480" opacity="0.8"/>
<circle cx="278.22" cy="168.15" r="3.7" fill="#a84c90"/>
<circle cx="278.22" cy="168.12" r="1.96" fill="#3e2480" opacity="0.8"/>
<circle cx="286.49" cy="169.51" r="3.41" fill="#b84484"/>
<circle cx="285.72" cy="170.03" r="1.77" fill="#3e2480" opacity="0.8"/>
<circle cx="291.83" cy="167.62" r="3.74" fill="#a84c90"/>
<circle cx="290.89" cy="167.69" r="2.32" fill="#3e2480" opacity="0.8"/>
<circle cx="300.67" cy="169.74" r="3.45" fill="#b0488a"/>
<circle cx="299.83" cy="170.75" r="1.81" fill="#3e2480" opacity="0.8"/>
<circle cx="308.35" cy="169.18" r="3.18" fill="#a04c98"/>
<circle cx="309.13" cy="168.47" r="1.49" fill="#3e2480" opacity="0.8"/>
<circle cx="321.02" cy="169.43" r="3.06" fill="#b84484"/>
<circle cx="321.22" cy="169.86" r="1.55" fill="#3e2480" opacity="0.8"/>
<circle cx="333.8" cy="168.49" r="2.91" fill="#984898"/>
<circle cx="343.63" cy="170.28" r="3.55" fill="#984898"/>
<circle cx="350.69" cy="169.77" r="3.8" fill="#b0488a"/>
<circle cx="351.26" cy="169.41" r="2.08" fill="#3e2480" opacity="0.8"/>
<circle cx="356.17" cy="167.43" r="3.81" fill="#b84484"/>
<circle cx="355.68" cy="166.68" r="2.35" fill="#3e2480" opacity="0.8"/>
<circle cx="363.87" cy="170.11" r="3.37" fill="#a04c98"/>
<circle cx="363.06" cy="171.1" r="1.84" fill="#3e2480" opacity="0.8"/>
<circle cx="370.89" cy="169.57" r="3.57" fill="#b84484"/>
<circle cx="370.16" cy="169.35" r="2.02" fill="#3e2480" opacity="0.8"/>
<circle cx="375.91" cy="169.06" r="3.84" fill="#a04c98"/>
<circle cx="376.17" cy="169.54" r="1.85" fill="#3e2480" opacity="0.8"/>
<circle cx="383.05" cy="169.71" r="3.72" fill="#a84c90"/>
<circle cx="383.18" cy="168.79" r="1.96" fill="#3e2480" opacity="0.8"/>
<circle cx="281.47" cy="176.04" r="3.5" fill="#b84484"/>
<circle cx="281.23" cy="175" r="1.77" fill="#3e2480" opacity="0.8"/>
<circle cx="290.98" cy="176.42" r="3.31" fill="#984898"/>
<circle cx="290.4" cy="175.73" r="1.56" fill="#3e2480" opacity="0.8"/>
<circle cx="303.84" cy="175.59" r="3.42" fill="#984898"/>
<circle cx="303.27" cy="176.7" r="1.67" fill="#3e2480" opacity="0.8"/>
<circle cx="311.67" cy="176.36" r="3.06" fill="#b84484"/>
<circle cx="312.74" cy="176.76" r="1.53" fill="#3e2480" opacity="0.8"/>
<circle cx="323.9" cy="173.72" r="3.08" fill="#984898"/>
<circle cx="324.46" cy="174.69" r="1.45" fill="#3e2480" opacity="0.8"/>
<circle cx="338.34" cy="174.48" r="3.59" fill="#a84c90"/>
<circle cx="337.68" cy="174.38" r="2.31" fill="#3e2480" opacity="0.8"/>
<circle cx="345.51" cy="173.38" r="3.9" fill="#984898"/>
<circle cx="344.65" cy="172.28" r="2.14" fill="#3e2480" opacity="0.8"/>
<circle cx="354.46" cy="174.53" r="3.45" fill="#b84484"/>
<circle cx="355.42" cy="174.39" r="1.85" fill="#3e2480" opacity="0.8"/>
<circle cx="358.61" cy="175.51" r="3.31" fill="#b84484"/>
<circle cx="358.44" cy="176.24" r="1.66" fill="#3e2480" opacity="0.8"/>
<circle cx="367.41" cy="174.9" r="3.25" fill="#b84484"/>
<circle cx="368.37" cy="174.07" r="1.48" fill="#3e2480" opacity="0.8"/>
<circle cx="374.3" cy="176.23" r="3.35" fill="#b0488a"/>
<circle cx="373.61" cy="176.85" r="1.85" fill="#3e2480" opacity="0.8"/>
<circle cx="379.39" cy="175.71" r="3.71" fill="#a84c90"/>
<circle cx="379.93" cy="175.4" r="1.7" fill="#3e2480" opacity="0.8"/>
<circle cx="272.36" cy="180.73" r="3.35" fill="#b84484"/>
<circle cx="273.48" cy="180.39" r="1.59" fill="#3e2480" opacity="0.8"/>
<circle cx="278.2" cy="180.12" r="3.87" fill="#a84c90"/>
<circle cx="286.6" cy="180.28" r="3.05" fill="#a04c98"/>
<circle cx="287.17" cy="179.44" r="1.7" fill="#3e2480" opacity="0.8"/>
<circle cx="293.97" cy="182.52" r="3.21" fill="#b84484"/>
<circle cx="293.39" cy="181.53" r="1.5" fill="#3e2480" opacity="0.8"/>
<circle cx="301.02" cy="180.63" r="3.42" fill="#a84c90"/>
<circle cx="301.49" cy="180.94" r="1.9" fill="#3e2480" opacity="0.8"/>
<circle cx="307.6" cy="180.12" r="3.31" fill="#b0488a"/>
<circle cx="307.99" cy="179.98" r="1.61" fill="#3e2480" opacity="0.8"/>
<circle cx="312.63" cy="180.86" r="3.76" fill="#a04c98"/>
<circle cx="313.07" cy="180.65" r="1.7" fill="#3e2480" opacity="0.8"/>
<circle cx="320.15" cy="180.44" r="3.73" fill="#984898"/>
<circle cx="319.74" cy="181.57" r="1.76" fill="#3e2480" opacity="0.8"/>
<circle cx="343.47" cy="182.06" r="3.84" fill="#a84c90"/>
<circle cx="344.2" cy="181.92" r="2.24" fill="#3e2480" opacity="0.8"/>
<circle cx="349.23" cy="181.7" r="3.51" fill="#984898"/>
<circle cx="349.09" cy="181.07" r="1.59" fill="#3e2480" opacity="0.8"/>
<circle cx="363.19" cy="179.98" r="2.92" fill="#a84c90"/>
<circle cx="362.98" cy="179.01" r="1.5" fill="#3e2480" opacity="0.8"/>
<circle cx="378.54" cy="180.03" r="3.48" fill="#b84484"/>
<circle cx="378.94" cy="179.41" r="1.63" fill="#3e2480" opacity="0.8"/>
<circle cx="383.46" cy="179.84" r="3.45" fill="#b0488a"/>
<circle cx="383.07" cy="179.11" r="1.95" fill="#3e2480" opacity="0.8"/>
<circle cx="270.06" cy="188.42" r="3.39" fill="#984898"/>
<circle cx="271.22" cy="188.13" r="2.13" fill="#3e2480" opacity="0.8"/>
<circle cx="277.08" cy="186.37" r="3.18" fill="#a84c90"/>
<circle cx="276.9" cy="185.91" r="1.47" fill="#3e2480" opacity="0.8"/>
<circle cx="283.6" cy="185.57" r="3.61" fill="#b0488a"/>
<circle cx="282.64" cy="186.59" r="2.05" fill="#3e2480" opacity="0.8"/>
<circle cx="290.97" cy="186.29" r="3.82" fill="#b84484"/>
<circle cx="291.02" cy="185.83" r="2.12" fill="#3e2480" opacity="0.8"/>
<circle cx="297.08" cy="187.63" r="2.99" fill="#a84c90"/>
<circle cx="298.28" cy="186.73" r="1.65" fill="#3e2480" opacity="0.8"/>
<circle cx="303.22" cy="186.8" r="3.57" fill="#b0488a"/>
<circle cx="303.8" cy="187.44" r="1.62" fill="#3e2480" opacity="0.8"/>
<circle cx="317.42" cy="187.18" r="3.27" fill="#a04c98"/>
<circle cx="316.23" cy="187.68" r="2.04" fill="#3e2480" opacity="0.8"/>
<circle cx="324.01" cy="187.6" r="3.42" fill="#a04c98"/>
<circle cx="324.43" cy="187.13" r="1.86" fill="#3e2480" opacity="0.8"/>
<circle cx="333.16" cy="188.45" r="3.8" fill="#984898"/>
<circle cx="333.88" cy="187.99" r="2.14" fill="#3e2480" opacity="0.8"/>
<circle cx="346.7" cy="186.3" r="3.87" fill="#b0488a"/>
<circle cx="353.34" cy="188.09" r="3.55" fill="#a04c98"/>
<circle cx="353.77" cy="187.46" r="1.71" fill="#3e2480" opacity="0.8"/>
<circle cx="360.69" cy="188.63" r="3.09" fill="#b0488a"/>
<circle cx="361.34" cy="188.65" r="1.78" fill="#3e2480" opacity="0.8"/>
<circle cx="366.93" cy="185.67" r="3.83" fill="#a04c98"/>
<circle cx="373.28" cy="187.78" r="3.07" fill="#984898"/>
<circle cx="374.39" cy="186.6" r="1.43" fill="#3e2480" opacity="0.8"/>
<circle cx="381.03" cy="185.91" r="3.28" fill="#b0488a"/>
<circle cx="272.76" cy="191.99" r="3.73" fill="#b0488a"/>
<circle cx="272.36" cy="192.67" r="2" fill="#3e2480" opacity="0.8"/>
<circle cx="279.84" cy="191.79" r="3.21" fill="#984898"/>
<circle cx="278.71" cy="191.32" r="1.92" fill="#3e2480" opacity="0.8"/>
<circle cx="285.04" cy="192.52" r="3.17" fill="#984898"/>
<circle cx="285.64" cy="191.81" r="1.49" fill="#3e2480" opacity="0.8"/>
<circle cx="293.64" cy="193.3" r="3.86" fill="#984898"/>
<circle cx="294.74" cy="193.25" r="1.89" fill="#3e2480" opacity="0.8"/>
<circle cx="300.15" cy="192.45" r="3.85" fill="#984898"/>
<circle cx="300.54" cy="193.65" r="1.77" fill="#3e2480" opacity="0.8"/>
<circle cx="305.79" cy="193.87" r="3.21" fill="#b0488a"/>
<circle cx="305.03" cy="192.9" r="1.56" fill="#3e2480" opacity="0.8"/>
<circle cx="314.45" cy="193.95" r="3.29" fill="#b84484"/>
<circle cx="314.29" cy="193.76" r="1.86" fill="#3e2480" opacity="0.8"/>
<circle cx="326.7" cy="193.13" r="3.18" fill="#b0488a"/>
<circle cx="325.59" cy="193.69" r="1.91" fill="#3e2480" opacity="0.8"/>
<circle cx="336.24" cy="192.6" r="3.02" fill="#984898"/>
<circle cx="348.79" cy="194.32" r="3.15" fill="#b0488a"/>
<circle cx="348.11" cy="193.67" r="1.54" fill="#3e2480" opacity="0.8"/>
<circle cx="355.5" cy="191.71" r="3.89" fill="#b84484"/>
<circle cx="355.29" cy="192.54" r="2.22" fill="#3e2480" opacity="0.8"/>
<circle cx="364.28" cy="193.91" r="2.97" fill="#b0488a"/>
<circle cx="363.98" cy="193.91" r="1.59" fill="#3e2480" opacity="0.8"/>
<circle cx="369.21" cy="192.82" r="3.12" fill="#a84c90"/>
<circle cx="368.15" cy="192.96" r="1.51" fill="#3e2480" opacity="0.8"/>
<circle cx="378.41" cy="193.98" r="3.09" fill="#a04c98"/>
<circle cx="379.34" cy="194.7" r="1.83" fill="#3e2480" opacity="0.8"/>
<circle cx="383.06" cy="192.75" r="2.97" fill="#a84c90"/>
<circle cx="383.09" cy="191.83" r="1.4" fill="#3e2480" opacity="0.8"/>
<circle cx="268.9" cy="199.44" r="3.43" fill="#a84c90"/>
<circle cx="274.93" cy="200.19" r="3.65" fill="#984898"/>
<circle cx="274.03" cy="200" r="2.37" fill="#3e2480" opacity="0.8"/>
<circle cx="283.86" cy="200.57" r="3.75" fill="#a84c90"/>
<circle cx="284.65" cy="200.38" r="1.92" fill="#3e2480" opacity="0.8"/>
<circle cx="289.39" cy="199.38" r="3.53" fill="#b0488a"/>
<circle cx="288.26" cy="199.5" r="2.01" fill="#3e2480" opacity="0.8"/>
<circle cx="297.27" cy="200.87" r="3.72" fill="#984898"/>
<circle cx="296.99" cy="202.01" r="1.89" fill="#3e2480" opacity="0.8"/>
<circle cx="303.1" cy="200.46" r="2.9" fill="#a04c98"/>
<circle cx="302.83" cy="201.31" r="1.81" fill="#3e2480" opacity="0.8"/>
<circle cx="311.15" cy="199.99" r="3.18" fill="#984898"/>
<circle cx="312.12" cy="199.59" r="1.62" fill="#3e2480" opacity="0.8"/>
<circle cx="318.75" cy="199.77" r="3.87" fill="#a84c90"/>
<circle cx="318.04" cy="200.32" r="1.74" fill="#3e2480" opacity="0.8"/>
<circle cx="324.88" cy="199.06" r="2.96" fill="#984898"/>
<circle cx="324.26" cy="198.21" r="1.5" fill="#3e2480" opacity="0.8"/>
<circle cx="347.41" cy="200.57" r="3.16" fill="#b84484"/>
<circle cx="346.81" cy="199.86" r="1.52" fill="#3e2480" opacity="0.8"/>
<circle cx="353.82" cy="199.63" r="3.38" fill="#a84c90"/>
<circle cx="359.31" cy="198.27" r="3.16" fill="#b84484"/>
<circle cx="359.2" cy="197.67" r="1.76" fill="#3e2480" opacity="0.8"/>
<circle cx="366.94" cy="200.7" r="3.45" fill="#b0488a"/>
<circle cx="366.43" cy="201.77" r="1.69" fill="#3e2480" opacity="0.8"/>
<circle cx="375.1" cy="199.88" r="2.94" fill="#a84c90"/>
<circle cx="375.49" cy="198.94" r="1.85" fill="#3e2480" opacity="0.8"/>
<circle cx="382.05" cy="199.55" r="3.13" fill="#b0488a"/>
<circle cx="382.76" cy="200.22" r="1.56" fill="#3e2480" opacity="0.8"/>
<circle cx="273.06" cy="206.13" r="3.87" fill="#a04c98"/>
<circle cx="272.15" cy="205.34" r="1.99" fill="#3e2480" opacity="0.8"/>
<circle cx="280.37" cy="206.8" r="3.04" fill="#b84484"/>
<circle cx="279.96" cy="205.87" r="1.56" fill="#3e2480" opacity="0.8"/>
<circle cx="286.08" cy="206.19" r="3.81" fill="#b84484"/>
<circle cx="287.02" cy="206.32" r="1.73" fill="#3e2480" opacity="0.8"/>
<circle cx="291.93" cy="203.69" r="3.07" fill="#b0488a"/>
<circle cx="291.78" cy="204.33" r="1.68" fill="#3e2480" opacity="0.8"/>
<circle cx="299.25" cy="204.1" r="3.9" fill="#a04c98"/>
<circle cx="298.94" cy="204.95" r="1.97" fill="#3e2480" opacity="0.8"/>
<circle cx="308" cy="205.42" r="3.58" fill="#b84484"/>
<circle cx="307.9" cy="205.36" r="2.11" fill="#3e2480" opacity="0.8"/>
<circle cx="314.82" cy="204.61" r="3.55" fill="#a04c98"/>
<circle cx="322.2" cy="204.95" r="3.04" fill="#984898"/>
<circle cx="322.19" cy="204.83" r="1.65" fill="#3e2480" opacity="0.8"/>
<circle cx="341.33" cy="203.55" r="2.95" fill="#984898"/>
<circle cx="342.49" cy="202.62" r="1.84" fill="#3e2480" opacity="0.8"/>
<circle cx="350.29" cy="204.04" r="3.66" fill="#a84c90"/>
<circle cx="351.4" cy="203.6" r="1.91" fill="#3e2480" opacity="0.8"/>
<circle cx="355.23" cy="204.27" r="3.07" fill="#a04c98"/>
<circle cx="356.06" cy="205.18" r="1.98" fill="#3e2480" opacity="0.8"/>
<circle cx="362.96" cy="204.13" r="3.08" fill="#a04c98"/>
<circle cx="368.94" cy="204.13" r="3.73" fill="#a84c90"/>
<circle cx="369.55" cy="204.01" r="2.23" fill="#3e2480" opacity="0.8"/>
<circle cx="375.76" cy="203.62" r="3.78" fill="#a04c98"/>
<circle cx="383.98" cy="206" r="2.94" fill="#b0488a"/>
<circle cx="268.46" cy="211.02" r="3.87" fill="#b84484"/>
<circle cx="267.52" cy="211.65" r="2.26" fill="#3e2480" opacity="0.8"/>
<circle cx="277.43" cy="210.4" r="3.44" fill="#a84c90"/>
<circle cx="276.9" cy="210.79" r="1.57" fill="#3e2480" opacity="0.8"/>
<circle cx="282.71" cy="210.21" r="3.28" fill="#a84c90"/>
<circle cx="282.57" cy="209.3" r="2.06" fill="#3e2480" opacity="0.8"/>
<circle cx="289.26" cy="210.06" r="3" fill="#a84c90"/>
<circle cx="289.13" cy="211.21" r="1.53" fill="#3e2480" opacity="0.8"/>
<circle cx="297.6" cy="210.59" r="3.29" fill="#984898"/>
<circle cx="296.43" cy="209.85" r="1.83" fill="#3e2480" opacity="0.8"/>
<circle cx="303.68" cy="212.9" r="3.9" fill="#a04c98"/>
<circle cx="303.89" cy="212" r="2.41" fill="#3e2480" opacity="0.8"/>
<circle cx="309.92" cy="210.56" r="3.18" fill="#b0488a"/>
<circle cx="309.71" cy="210.49" r="1.82" fill="#3e2480" opacity="0.8"/>
<circle cx="318.25" cy="210.84" r="3.02" fill="#984898"/>
<circle cx="330.06" cy="209.74" r="3.04" fill="#984898"/>
<circle cx="330.68" cy="209.84" r="1.57" fill="#3e2480" opacity="0.8"/>
<circle cx="337.65" cy="209.76" r="3.02" fill="#b0488a"/>
<circle cx="338.62" cy="209.84" r="1.53" fill="#3e2480" opacity="0.8"/>
<circle cx="346.34" cy="212.78" r="3.25" fill="#984898"/>
<circle cx="347" cy="212.29" r="1.51" fill="#3e2480" opacity="0.8"/>
<circle cx="361.26" cy="212.92" r="3.82" fill="#b0488a"/>
<circle cx="361.49" cy="212.69" r="2.45" fill="#3e2480" opacity="0.8"/>
<circle cx="379.45" cy="210.99" r="2.97" fill="#b0488a"/>
<circle cx="380.46" cy="211.3" r="1.34" fill="#3e2480" opacity="0.8"/>
<circle cx="272.93" cy="218.97" r="3.09" fill="#984898"/>
<circle cx="271.86" cy="219.31" r="1.72" fill="#3e2480" opacity="0.8"/>
<circle cx="280.14" cy="218.29" r="3.85" fill="#b84484"/>
<circle cx="281.07" cy="218.37" r="2.3" fill="#3e2480" opacity="0.8"/>
<circle cx="286.49" cy="218.95" r="3.91" fill="#a84c90"/>
<circle cx="287.68" cy="217.96" r="2.3" fill="#3e2480" opacity="0.8"/>
<circle cx="293" cy="216.52" r="3.89" fill="#b0488a"/>
<circle cx="292.75" cy="215.72" r="2.41" fill="#3e2480" opacity="0.8"/>
<circle cx="300.23" cy="216.66" r="3.14" fill="#a84c90"/>
<circle cx="308.07" cy="217.84" r="3.25" fill="#b84484"/>
<circle cx="309.25" cy="218.89" r="1.87" fill="#3e2480" opacity="0.8"/>
<circle cx="313.9" cy="217.42" r="3.86" fill="#a84c90"/>
<circle cx="314.06" cy="216.92" r="2.25" fill="#3e2480" opacity="0.8"/>
<circle cx="322.04" cy="215.8" r="3.38" fill="#b84484"/>
<circle cx="320.84" cy="215.66" r="1.85" fill="#3e2480" opacity="0.8"/>
<circle cx="329.2" cy="218.09" r="3.61" fill="#a04c98"/>
<circle cx="343.62" cy="218.77" r="3.21" fill="#984898"/>
<circle cx="342.85" cy="218.68" r="1.81" fill="#3e2480" opacity="0.8"/>
<circle cx="350.69" cy="218.29" r="2.91" fill="#984898"/>
<circle cx="355.85" cy="215.97" r="3.24" fill="#b84484"/>
<circle cx="355.22" cy="215.26" r="1.48" fill="#3e2480" opacity="0.8"/>
<circle cx="376.39" cy="215.89" r="3.65" fill="#b84484"/>
<circle cx="377.16" cy="215.12" r="1.99" fill="#3e2480" opacity="0.8"/>
<circle cx="384.81" cy="217.77" r="3.69" fill="#984898"/>
<circle cx="385.65" cy="217.96" r="1.84" fill="#3e2480" opacity="0.8"/>
<circle cx="267.85" cy="225.2" r="3.47" fill="#b84484"/>
<circle cx="266.8" cy="225.8" r="1.72" fill="#3e2480" opacity="0.8"/>
<circle cx="276.02" cy="223.28" r="3.36" fill="#984898"/>
<circle cx="275.5" cy="222.68" r="2.09" fill="#3e2480" opacity="0.8"/>
<circle cx="283.17" cy="224.57" r="3.44" fill="#984898"/>
<circle cx="282.32" cy="224.4" r="2.03" fill="#3e2480" opacity="0.8"/>
<circle cx="288.71" cy="222.43" r="3.34" fill="#a04c98"/>
<circle cx="288.48" cy="221.29" r="1.94" fill="#3e2480" opacity="0.8"/>
<circle cx="297.94" cy="222.2" r="3.44" fill="#b84484"/>
<circle cx="298.94" cy="222.01" r="1.8" fill="#3e2480" opacity="0.8"/>
<circle cx="305.43" cy="222.51" r="3.74" fill="#a04c98"/>
<circle cx="306.15" cy="221.54" r="2.24" fill="#3e2480" opacity="0.8"/>
<circle cx="309.35" cy="223.44" r="3.09" fill="#b0488a"/>
<circle cx="309.17" cy="222.84" r="1.44" fill="#3e2480" opacity="0.8"/>
<circle cx="318.95" cy="223.96" r="3.5" fill="#b0488a"/>
<circle cx="318.39" cy="223.65" r="1.87" fill="#3e2480" opacity="0.8"/>
<circle cx="325.71" cy="224.86" r="3.84" fill="#984898"/>
<circle cx="332.16" cy="223.37" r="3.76" fill="#a04c98"/>
<circle cx="344.77" cy="223.7" r="3.07" fill="#b84484"/>
<circle cx="344.79" cy="224.29" r="1.88" fill="#3e2480" opacity="0.8"/>
<circle cx="353.6" cy="222.08" r="3.87" fill="#984898"/>
<circle cx="353.09" cy="221.26" r="2.02" fill="#3e2480" opacity="0.8"/>
<circle cx="374.17" cy="222.56" r="3.75" fill="#a04c98"/>
<circle cx="373.35" cy="221.99" r="1.79" fill="#3e2480" opacity="0.8"/>
<circle cx="382.54" cy="222.98" r="3.06" fill="#b0488a"/>
<circle cx="270.84" cy="228.66" r="3.16" fill="#b84484"/>
<circle cx="271.74" cy="229.58" r="1.53" fill="#3e2480" opacity="0.8"/>
<circle cx="280.81" cy="230.44" r="3.1" fill="#b0488a"/>
<circle cx="281.99" cy="231.07" r="1.64" fill="#3e2480" opacity="0.8"/>
<circle cx="288" cy="230.04" r="2.94" fill="#a84c90"/>
<circle cx="287.06" cy="230.94" r="1.71" fill="#3e2480" opacity="0.8"/>
<circle cx="293.43" cy="229.37" r="3.89" fill="#984898"/>
<circle cx="293.08" cy="228.89" r="2.45" fill="#3e2480" opacity="0.8"/>
<circle cx="301.71" cy="231.22" r="3.31" fill="#b0488a"/>
<circle cx="302.37" cy="230.39" r="1.72" fill="#3e2480" opacity="0.8"/>
<circle cx="315.77" cy="228.92" r="3.78" fill="#a04c98"/>
<circle cx="316.92" cy="229.85" r="2.27" fill="#3e2480" opacity="0.8"/>
<circle cx="320.2" cy="228.24" r="3.01" fill="#984898"/>
<circle cx="319.46" cy="228.7" r="1.59" fill="#3e2480" opacity="0.8"/>
<circle cx="327.58" cy="229.72" r="2.9" fill="#a84c90"/>
<circle cx="326.9" cy="229.08" r="1.81" fill="#3e2480" opacity="0.8"/>
<circle cx="333.69" cy="230.51" r="3.78" fill="#984898"/>
<circle cx="334.05" cy="231.11" r="2.44" fill="#3e2480" opacity="0.8"/>
<circle cx="342.06" cy="229.11" r="3.7" fill="#a04c98"/>
<circle cx="343.16" cy="227.95" r="2.31" fill="#3e2480" opacity="0.8"/>
<circle cx="350.16" cy="228.91" r="3.9" fill="#b0488a"/>
<circle cx="355.6" cy="229.34" r="3.59" fill="#a04c98"/>
<circle cx="362.09" cy="230.57" r="3.43" fill="#b84484"/>
<circle cx="363.14" cy="230.12" r="1.79" fill="#3e2480" opacity="0.8"/>
<circle cx="376.85" cy="228.46" r="3.67" fill="#b84484"/>
<circle cx="377.84" cy="227.68" r="2.38" fill="#3e2480" opacity="0.8"/>
<circle cx="384.17" cy="229.74" r="2.98" fill="#b0488a"/>
<circle cx="383.55" cy="230.16" r="1.69" fill="#3e2480" opacity="0.8"/>
</g>
</g>
<g clip-path="url(#civ)">
<rect x="398.3" y="134.9" width="111" height="93.4" fill="#d04070"/>
<g filter="url(#bl3)">
<ellipse cx="487.1" cy="151.71" rx="33.3" ry="23.35" fill="#ec3848" opacity="0.9"/>
</g>
<rect x="398.3" y="134.9" width="111" height="93.4" filter="url(#t3)" opacity="0.6"/>
<g filter="url(#b05)">
<circle cx="398.72" cy="139.02" r="4.73" fill="#eab4d4" opacity="0.85"/>
<circle cx="406.6" cy="139.02" r="4.71" fill="#eab4d4" opacity="0.85"/>
<circle cx="410.3" cy="138.08" r="3.84" fill="#eab4d4" opacity="0.85"/>
<circle cx="419.21" cy="139.56" r="3.61" fill="#eab4d4" opacity="0.85"/>
<circle cx="425.39" cy="137.34" r="4.64" fill="#eab4d4" opacity="0.85"/>
<circle cx="432.55" cy="136.54" r="4.81" fill="#eab4d4" opacity="0.85"/>
<circle cx="438.35" cy="139.62" r="4.35" fill="#eab4d4" opacity="0.85"/>
<circle cx="444.74" cy="139.21" r="3.76" fill="#eab4d4" opacity="0.85"/>
<circle cx="453.1" cy="136.93" r="3.89" fill="#eab4d4" opacity="0.85"/>
<circle cx="460.76" cy="137.21" r="4.76" fill="#eab4d4" opacity="0.85"/>
<circle cx="401.07" cy="144.05" r="4.78" fill="#eab4d4" opacity="0.85"/>
<circle cx="406.99" cy="145.73" r="3.63" fill="#eab4d4" opacity="0.85"/>
<circle cx="416.15" cy="145.29" r="3.82" fill="#eab4d4" opacity="0.85"/>
<circle cx="423.08" cy="143.66" r="4.13" fill="#eab4d4" opacity="0.85"/>
<circle cx="427.23" cy="142.57" r="3.93" fill="#eab4d4" opacity="0.85"/>
<circle cx="437.25" cy="143.08" r="4.55" fill="#eab4d4" opacity="0.85"/>
<circle cx="443.96" cy="145.62" r="4.06" fill="#eab4d4" opacity="0.85"/>
<circle cx="399.41" cy="149.88" r="4.57" fill="#eab4d4" opacity="0.85"/>
<circle cx="403.59" cy="151.45" r="3.78" fill="#eab4d4" opacity="0.85"/>
<circle cx="411.88" cy="151.18" r="4.25" fill="#eab4d4" opacity="0.85"/>
<circle cx="419.49" cy="151.56" r="4.83" fill="#eab4d4" opacity="0.85"/>
<circle cx="426.48" cy="148.69" r="4.48" fill="#eab4d4" opacity="0.85"/>
<circle cx="431.11" cy="151.2" r="3.7" fill="#eab4d4" opacity="0.85"/>
<circle cx="447.52" cy="149.87" r="3.73" fill="#eab4d4" opacity="0.85"/>
<circle cx="453.48" cy="149.96" r="4.41" fill="#eab4d4" opacity="0.85"/>
<circle cx="401.97" cy="154.29" r="4.07" fill="#eab4d4" opacity="0.85"/>
<circle cx="407.65" cy="156.53" r="4.06" fill="#eab4d4" opacity="0.85"/>
<circle cx="416.38" cy="156.45" r="4.2" fill="#eab4d4" opacity="0.85"/>
<circle cx="421.58" cy="156.44" r="4.33" fill="#eab4d4" opacity="0.85"/>
<circle cx="430.02" cy="155.44" r="4.81" fill="#eab4d4" opacity="0.85"/>
<circle cx="444.05" cy="156.01" r="3.9" fill="#eab4d4" opacity="0.85"/>
<circle cx="497.53" cy="156.39" r="4.31" fill="#eab4d4" opacity="0.85"/>
<circle cx="503.6" cy="155.02" r="3.92" fill="#eab4d4" opacity="0.85"/>
<circle cx="397.26" cy="160.29" r="4.28" fill="#eab4d4" opacity="0.85"/>
<circle cx="404.69" cy="162.24" r="4.52" fill="#eab4d4" opacity="0.85"/>
<circle cx="411.01" cy="163.23" r="3.76" fill="#eab4d4" opacity="0.85"/>
<circle cx="418.38" cy="161.11" r="4.2" fill="#eab4d4" opacity="0.85"/>
<circle cx="424.19" cy="162.99" r="4.48" fill="#eab4d4" opacity="0.85"/>
<circle cx="430.72" cy="162.25" r="3.6" fill="#eab4d4" opacity="0.85"/>
<circle cx="439.25" cy="161.32" r="4.57" fill="#eab4d4" opacity="0.85"/>
<circle cx="447.46" cy="162.95" r="4.12" fill="#eab4d4" opacity="0.85"/>
<circle cx="472.59" cy="163.2" r="4.23" fill="#eab4d4" opacity="0.85"/>
<circle cx="408.47" cy="167.05" r="4.36" fill="#eab4d4" opacity="0.85"/>
<circle cx="414.01" cy="168.19" r="4.6" fill="#eab4d4" opacity="0.85"/>
<circle cx="421.4" cy="168.74" r="3.66" fill="#eab4d4" opacity="0.85"/>
<circle cx="427.24" cy="167.89" r="4.22" fill="#eab4d4" opacity="0.85"/>
<circle cx="437.18" cy="168.74" r="3.64" fill="#eab4d4" opacity="0.85"/>
<circle cx="484.13" cy="168.09" r="4.08" fill="#eab4d4" opacity="0.85"/>
<circle cx="498.22" cy="167.94" r="4.03" fill="#eab4d4" opacity="0.85"/>
<circle cx="399.7" cy="173.31" r="3.62" fill="#eab4d4" opacity="0.85"/>
<circle cx="406.3" cy="172.66" r="3.97" fill="#eab4d4" opacity="0.85"/>
<circle cx="413.02" cy="172.22" r="4.16" fill="#eab4d4" opacity="0.85"/>
<circle cx="419.36" cy="173.47" r="4.42" fill="#eab4d4" opacity="0.85"/>
<circle cx="426.45" cy="175.09" r="4.76" fill="#eab4d4" opacity="0.85"/>
<circle cx="432.23" cy="173.86" r="4.06" fill="#eab4d4" opacity="0.85"/>
<circle cx="438.52" cy="172.52" r="4.26" fill="#eab4d4" opacity="0.85"/>
<circle cx="446.96" cy="172.23" r="4.49" fill="#eab4d4" opacity="0.85"/>
<circle cx="467.99" cy="174.38" r="4.78" fill="#eab4d4" opacity="0.85"/>
<circle cx="481.44" cy="174.42" r="4.79" fill="#eab4d4" opacity="0.85"/>
<circle cx="485.99" cy="175.12" r="4.84" fill="#eab4d4" opacity="0.85"/>
<circle cx="493.88" cy="173.4" r="3.97" fill="#eab4d4" opacity="0.85"/>
<circle cx="500.72" cy="172.14" r="3.8" fill="#eab4d4" opacity="0.85"/>
<circle cx="506.69" cy="172.24" r="4.77" fill="#eab4d4" opacity="0.85"/>
<circle cx="400.46" cy="179.38" r="3.69" fill="#eab4d4" opacity="0.85"/>
<circle cx="408.84" cy="179.58" r="4.16" fill="#eab4d4" opacity="0.85"/>
<circle cx="414.87" cy="178.1" r="4.52" fill="#eab4d4" opacity="0.85"/>
<circle cx="420.91" cy="180.06" r="4.26" fill="#eab4d4" opacity="0.85"/>
<circle cx="430.3" cy="179.8" r="4.08" fill="#eab4d4" opacity="0.85"/>
<circle cx="434.9" cy="179.79" r="4.76" fill="#eab4d4" opacity="0.85"/>
<circle cx="443.35" cy="179.67" r="3.97" fill="#eab4d4" opacity="0.85"/>
<circle cx="461.49" cy="180.18" r="4.29" fill="#eab4d4" opacity="0.85"/>
<circle cx="468.42" cy="179.93" r="4.64" fill="#eab4d4" opacity="0.85"/>
<circle cx="477.78" cy="179.55" r="3.77" fill="#eab4d4" opacity="0.85"/>
<circle cx="497.52" cy="178.67" r="4.04" fill="#eab4d4" opacity="0.85"/>
<circle cx="509.28" cy="180.04" r="4.22" fill="#eab4d4" opacity="0.85"/>
<circle cx="397.4" cy="184.96" r="4.31" fill="#eab4d4" opacity="0.85"/>
<circle cx="404.59" cy="185.14" r="3.85" fill="#eab4d4" opacity="0.85"/>
<circle cx="413.03" cy="186.03" r="4.17" fill="#eab4d4" opacity="0.85"/>
<circle cx="418.47" cy="186.72" r="3.67" fill="#eab4d4" opacity="0.85"/>
<circle cx="425.81" cy="185.78" r="3.7" fill="#eab4d4" opacity="0.85"/>
<circle cx="431.94" cy="184.16" r="4.02" fill="#eab4d4" opacity="0.85"/>
<circle cx="438.09" cy="183.96" r="3.77" fill="#eab4d4" opacity="0.85"/>
<circle cx="445.84" cy="186.41" r="4.82" fill="#eab4d4" opacity="0.85"/>
<circle cx="452.6" cy="186.85" r="3.92" fill="#eab4d4" opacity="0.85"/>
<circle cx="459.26" cy="185.41" r="3.94" fill="#eab4d4" opacity="0.85"/>
<circle cx="465.13" cy="184.37" r="4.58" fill="#eab4d4" opacity="0.85"/>
<circle cx="472.71" cy="186.82" r="4.53" fill="#eab4d4" opacity="0.85"/>
<circle cx="479.06" cy="184.77" r="3.92" fill="#eab4d4" opacity="0.85"/>
<circle cx="485.98" cy="184.63" r="4.64" fill="#eab4d4" opacity="0.85"/>
<circle cx="491.91" cy="186.97" r="4.38" fill="#eab4d4" opacity="0.85"/>
<circle cx="501.79" cy="186.17" r="4.08" fill="#eab4d4" opacity="0.85"/>
<circle cx="507" cy="187.04" r="4.39" fill="#eab4d4" opacity="0.85"/>
<circle cx="514.47" cy="184.82" r="3.9" fill="#eab4d4" opacity="0.85"/>
<circle cx="402.48" cy="190.3" r="3.92" fill="#eab4d4" opacity="0.85"/>
<circle cx="406.88" cy="190.53" r="4.7" fill="#eab4d4" opacity="0.85"/>
<circle cx="414.96" cy="193.05" r="4.15" fill="#eab4d4" opacity="0.85"/>
<circle cx="421.46" cy="191.34" r="4.73" fill="#eab4d4" opacity="0.85"/>
<circle cx="429.69" cy="192.18" r="3.81" fill="#eab4d4" opacity="0.85"/>
<circle cx="434.82" cy="192.03" r="3.76" fill="#eab4d4" opacity="0.85"/>
<circle cx="447.62" cy="189.95" r="3.66" fill="#eab4d4" opacity="0.85"/>
<circle cx="455.79" cy="189.9" r="4.53" fill="#eab4d4" opacity="0.85"/>
<circle cx="464.56" cy="191.51" r="4.3" fill="#eab4d4" opacity="0.85"/>
<circle cx="476.47" cy="192.93" r="3.6" fill="#eab4d4" opacity="0.85"/>
<circle cx="482.43" cy="189.92" r="3.65" fill="#eab4d4" opacity="0.85"/>
<circle cx="488.6" cy="190.61" r="4.63" fill="#eab4d4" opacity="0.85"/>
<circle cx="496.24" cy="189.92" r="4.22" fill="#eab4d4" opacity="0.85"/>
<circle cx="505.3" cy="190.35" r="4.69" fill="#eab4d4" opacity="0.85"/>
<circle cx="510.17" cy="191.55" r="3.64" fill="#eab4d4" opacity="0.85"/>
<circle cx="397.67" cy="196.03" r="4.34" fill="#eab4d4" opacity="0.85"/>
<circle cx="406.53" cy="197.69" r="3.74" fill="#eab4d4" opacity="0.85"/>
<circle cx="410.93" cy="195.72" r="4.5" fill="#eab4d4" opacity="0.85"/>
<circle cx="418.65" cy="197.6" r="4.37" fill="#eab4d4" opacity="0.85"/>
<circle cx="425.93" cy="198.13" r="4.37" fill="#eab4d4" opacity="0.85"/>
<circle cx="431.65" cy="197.19" r="3.87" fill="#eab4d4" opacity="0.85"/>
<circle cx="438.16" cy="196.05" r="4.79" fill="#eab4d4" opacity="0.85"/>
<circle cx="444.5" cy="198.29" r="3.73" fill="#eab4d4" opacity="0.85"/>
<circle cx="452.06" cy="196.1" r="3.67" fill="#eab4d4" opacity="0.85"/>
<circle cx="458.63" cy="195.95" r="4.46" fill="#eab4d4" opacity="0.85"/>
<circle cx="466.56" cy="196.49" r="3.71" fill="#eab4d4" opacity="0.85"/>
<circle cx="473.78" cy="195.82" r="3.68" fill="#eab4d4" opacity="0.85"/>
<circle cx="479.17" cy="196.93" r="4.17" fill="#eab4d4" opacity="0.85"/>
<circle cx="486.43" cy="196.73" r="4.41" fill="#eab4d4" opacity="0.85"/>
<circle cx="493.69" cy="198.71" r="4.72" fill="#eab4d4" opacity="0.85"/>
<circle cx="501.18" cy="197.61" r="4.5" fill="#eab4d4" opacity="0.85"/>
<circle cx="514.68" cy="198.04" r="3.68" fill="#eab4d4" opacity="0.85"/>
<circle cx="402.76" cy="202.88" r="4.41" fill="#eab4d4" opacity="0.85"/>
<circle cx="407.02" cy="202.15" r="4.66" fill="#eab4d4" opacity="0.85"/>
<circle cx="415.9" cy="202.55" r="3.74" fill="#eab4d4" opacity="0.85"/>
<circle cx="423" cy="203.47" r="4.55" fill="#eab4d4" opacity="0.85"/>
<circle cx="427.37" cy="202.02" r="3.92" fill="#eab4d4" opacity="0.85"/>
<circle cx="436.92" cy="204.8" r="3.97" fill="#eab4d4" opacity="0.85"/>
<circle cx="441.59" cy="203.03" r="3.59" fill="#eab4d4" opacity="0.85"/>
<circle cx="448.72" cy="201.62" r="4.55" fill="#eab4d4" opacity="0.85"/>
<circle cx="457.21" cy="204.05" r="4.24" fill="#eab4d4" opacity="0.85"/>
<circle cx="463" cy="202.16" r="4.73" fill="#eab4d4" opacity="0.85"/>
<circle cx="469.52" cy="204.77" r="4.18" fill="#eab4d4" opacity="0.85"/>
<circle cx="475.2" cy="202.65" r="3.79" fill="#eab4d4" opacity="0.85"/>
<circle cx="483.17" cy="203.05" r="3.86" fill="#eab4d4" opacity="0.85"/>
<circle cx="491.01" cy="204.76" r="3.92" fill="#eab4d4" opacity="0.85"/>
<circle cx="498.5" cy="203.6" r="4.79" fill="#eab4d4" opacity="0.85"/>
<circle cx="504.77" cy="203" r="3.85" fill="#eab4d4" opacity="0.85"/>
<circle cx="512.13" cy="201.69" r="3.7" fill="#eab4d4" opacity="0.85"/>
<circle cx="398.24" cy="210.49" r="4.04" fill="#eab4d4" opacity="0.85"/>
<circle cx="404.13" cy="208.43" r="3.69" fill="#eab4d4" opacity="0.85"/>
<circle cx="412.11" cy="208.71" r="4.13" fill="#eab4d4" opacity="0.85"/>
<circle cx="417.82" cy="208.69" r="4.38" fill="#eab4d4" opacity="0.85"/>
<circle cx="427.14" cy="210.35" r="4.41" fill="#eab4d4" opacity="0.85"/>
<circle cx="432.7" cy="208.85" r="3.81" fill="#eab4d4" opacity="0.85"/>
<circle cx="440.23" cy="209.16" r="3.77" fill="#eab4d4" opacity="0.85"/>
<circle cx="444.78" cy="207.83" r="4.21" fill="#eab4d4" opacity="0.85"/>
<circle cx="454.06" cy="208.17" r="4.46" fill="#eab4d4" opacity="0.85"/>
<circle cx="458.9" cy="209.81" r="4.16" fill="#eab4d4" opacity="0.85"/>
<circle cx="466.72" cy="210.21" r="4.32" fill="#eab4d4" opacity="0.85"/>
<circle cx="471.43" cy="209.23" r="4.75" fill="#eab4d4" opacity="0.85"/>
<circle cx="478.83" cy="208.81" r="3.77" fill="#eab4d4" opacity="0.85"/>
<circle cx="485.09" cy="208.55" r="3.93" fill="#eab4d4" opacity="0.85"/>
<circle cx="493.42" cy="209.88" r="4.22" fill="#eab4d4" opacity="0.85"/>
<circle cx="501.94" cy="210.26" r="4.27" fill="#eab4d4" opacity="0.85"/>
<circle cx="507.76" cy="209.77" r="4.73" fill="#eab4d4" opacity="0.85"/>
<circle cx="514.92" cy="208.73" r="4.29" fill="#eab4d4" opacity="0.85"/>
<circle cx="402.31" cy="215.18" r="4.43" fill="#eab4d4" opacity="0.85"/>
<circle cx="407.06" cy="213.7" r="4.12" fill="#eab4d4" opacity="0.85"/>
<circle cx="415.57" cy="215.99" r="4.58" fill="#eab4d4" opacity="0.85"/>
<circle cx="421.44" cy="216.57" r="4.65" fill="#eab4d4" opacity="0.85"/>
<circle cx="429.63" cy="213.65" r="3.96" fill="#eab4d4" opacity="0.85"/>
<circle cx="436.28" cy="216.66" r="3.73" fill="#eab4d4" opacity="0.85"/>
<circle cx="443.14" cy="216.26" r="3.92" fill="#eab4d4" opacity="0.85"/>
<circle cx="449.68" cy="214.12" r="4.04" fill="#eab4d4" opacity="0.85"/>
<circle cx="463.05" cy="214.75" r="4.72" fill="#eab4d4" opacity="0.85"/>
<circle cx="469.33" cy="214.01" r="3.93" fill="#eab4d4" opacity="0.85"/>
<circle cx="477.86" cy="216.5" r="4.39" fill="#eab4d4" opacity="0.85"/>
<circle cx="482.91" cy="213.78" r="4.4" fill="#eab4d4" opacity="0.85"/>
<circle cx="490.28" cy="215.84" r="4.8" fill="#eab4d4" opacity="0.85"/>
<circle cx="498.22" cy="214.13" r="3.74" fill="#eab4d4" opacity="0.85"/>
<circle cx="502.91" cy="215.52" r="4.57" fill="#eab4d4" opacity="0.85"/>
<circle cx="509.37" cy="215.56" r="4.02" fill="#eab4d4" opacity="0.85"/>
<circle cx="397.36" cy="219.54" r="3.72" fill="#eab4d4" opacity="0.85"/>
<circle cx="406.22" cy="222.31" r="4.39" fill="#eab4d4" opacity="0.85"/>
<circle cx="411.62" cy="220.77" r="4.66" fill="#eab4d4" opacity="0.85"/>
<circle cx="420.08" cy="220.35" r="4.33" fill="#eab4d4" opacity="0.85"/>
<circle cx="425.86" cy="222.61" r="3.65" fill="#eab4d4" opacity="0.85"/>
<circle cx="430.7" cy="219.72" r="4.82" fill="#eab4d4" opacity="0.85"/>
<circle cx="439.45" cy="219.95" r="4.08" fill="#eab4d4" opacity="0.85"/>
<circle cx="446.22" cy="221.52" r="4.4" fill="#eab4d4" opacity="0.85"/>
<circle cx="453.48" cy="219.53" r="4.51" fill="#eab4d4" opacity="0.85"/>
<circle cx="460.64" cy="222.58" r="3.92" fill="#eab4d4" opacity="0.85"/>
<circle cx="467.49" cy="221.52" r="4.11" fill="#eab4d4" opacity="0.85"/>
<circle cx="472.18" cy="221.69" r="4.01" fill="#eab4d4" opacity="0.85"/>
<circle cx="479.82" cy="219.67" r="3.71" fill="#eab4d4" opacity="0.85"/>
<circle cx="485.53" cy="219.64" r="3.67" fill="#eab4d4" opacity="0.85"/>
<circle cx="493.89" cy="219.68" r="4.5" fill="#eab4d4" opacity="0.85"/>
<circle cx="501.1" cy="222.1" r="4.11" fill="#eab4d4" opacity="0.85"/>
<circle cx="514.33" cy="222.61" r="4.69" fill="#eab4d4" opacity="0.85"/>
<circle cx="400.35" cy="225.46" r="3.67" fill="#eab4d4" opacity="0.85"/>
<circle cx="408.07" cy="226.8" r="3.97" fill="#eab4d4" opacity="0.85"/>
<circle cx="416.13" cy="225.52" r="3.82" fill="#eab4d4" opacity="0.85"/>
<circle cx="422.25" cy="226.52" r="4.79" fill="#eab4d4" opacity="0.85"/>
<circle cx="429.23" cy="226.51" r="4.59" fill="#eab4d4" opacity="0.85"/>
<circle cx="435.68" cy="228.51" r="4.73" fill="#eab4d4" opacity="0.85"/>
<circle cx="441.05" cy="227.82" r="4.23" fill="#eab4d4" opacity="0.85"/>
<circle cx="448.61" cy="225.64" r="3.72" fill="#eab4d4" opacity="0.85"/>
<circle cx="455.6" cy="227.75" r="4.12" fill="#eab4d4" opacity="0.85"/>
<circle cx="462.5" cy="226.23" r="3.88" fill="#eab4d4" opacity="0.85"/>
<circle cx="470.37" cy="227.92" r="3.62" fill="#eab4d4" opacity="0.85"/>
<circle cx="475.81" cy="226.39" r="4.31" fill="#eab4d4" opacity="0.85"/>
<circle cx="483.37" cy="225.41" r="3.96" fill="#eab4d4" opacity="0.85"/>
<circle cx="489.21" cy="227.51" r="3.73" fill="#eab4d4" opacity="0.85"/>
<circle cx="496.12" cy="225.57" r="4.24" fill="#eab4d4" opacity="0.85"/>
<circle cx="505.35" cy="227.08" r="4.77" fill="#eab4d4" opacity="0.85"/>
<circle cx="511.98" cy="225.55" r="4.79" fill="#eab4d4" opacity="0.85"/>
<circle cx="399.36" cy="231.17" r="4.18" fill="#eab4d4" opacity="0.85"/>
<circle cx="404.63" cy="231.21" r="3.72" fill="#eab4d4" opacity="0.85"/>
<circle cx="411.76" cy="232.46" r="4.56" fill="#eab4d4" opacity="0.85"/>
<circle cx="425.3" cy="232.76" r="3.74" fill="#eab4d4" opacity="0.85"/>
<circle cx="431.55" cy="234.4" r="4.27" fill="#eab4d4" opacity="0.85"/>
<circle cx="439.13" cy="231.34" r="3.7" fill="#eab4d4" opacity="0.85"/>
<circle cx="446.85" cy="232.63" r="4.84" fill="#eab4d4" opacity="0.85"/>
<circle cx="454.07" cy="233.35" r="4.28" fill="#eab4d4" opacity="0.85"/>
<circle cx="457.92" cy="231.24" r="4.14" fill="#eab4d4" opacity="0.85"/>
<circle cx="466.01" cy="234.13" r="3.94" fill="#eab4d4" opacity="0.85"/>
<circle cx="480.77" cy="234.19" r="4.29" fill="#eab4d4" opacity="0.85"/>
<circle cx="495.18" cy="231.89" r="4.82" fill="#eab4d4" opacity="0.85"/>
<circle cx="499.52" cy="232.75" r="4.13" fill="#eab4d4" opacity="0.85"/>
<circle cx="507.67" cy="231.58" r="3.86" fill="#eab4d4" opacity="0.85"/>
<circle cx="513.76" cy="231.41" r="4.24" fill="#eab4d4" opacity="0.85"/>
<circle cx="398.72" cy="139.02" r="3.69" fill="#c84c84"/>
<circle cx="399.04" cy="140.03" r="1.9" fill="#6a2a80" opacity="0.45"/>
<circle cx="406.6" cy="139.02" r="3.68" fill="#d44874"/>
<circle cx="406.14" cy="139.87" r="2.13" fill="#6a2a80" opacity="0.45"/>
<circle cx="410.3" cy="138.08" r="3" fill="#bc4480"/>
<circle cx="411.3" cy="138.26" r="1.65" fill="#6a2a80" opacity="0.45"/>
<circle cx="419.21" cy="139.56" r="2.82" fill="#bc4480"/>
<circle cx="419.52" cy="139.46" r="1.5" fill="#6a2a80" opacity="0.45"/>
<circle cx="425.39" cy="137.34" r="3.63" fill="#d44874"/>
<circle cx="425.63" cy="137.24" r="2.32" fill="#6a2a80" opacity="0.45"/>
<circle cx="432.55" cy="136.54" r="3.76" fill="#c8447c"/>
<circle cx="431.91" cy="135.94" r="2.17" fill="#6a2a80" opacity="0.45"/>
<circle cx="438.35" cy="139.62" r="3.4" fill="#d0508a"/>
<circle cx="438.26" cy="140.04" r="2.07" fill="#6a2a80" opacity="0.45"/>
<circle cx="444.74" cy="139.21" r="2.94" fill="#d0508a"/>
<circle cx="444.94" cy="138.61" r="1.53" fill="#6a2a80" opacity="0.45"/>
<circle cx="453.1" cy="136.93" r="3.04" fill="#c8447c"/>
<circle cx="453.23" cy="136.23" r="1.38" fill="#6a2a80" opacity="0.45"/>
<circle cx="460.76" cy="137.21" r="3.72" fill="#d44874"/>
<circle cx="461.1" cy="137.19" r="2.32" fill="#6a2a80" opacity="0.45"/>
<circle cx="401.07" cy="144.05" r="3.73" fill="#d44874"/>
<circle cx="400.67" cy="144.96" r="1.78" fill="#6a2a80" opacity="0.45"/>
<circle cx="406.99" cy="145.73" r="2.84" fill="#d0508a"/>
<circle cx="406.68" cy="146.39" r="1.44" fill="#6a2a80" opacity="0.45"/>
<circle cx="416.15" cy="145.29" r="2.99" fill="#c84c84"/>
<circle cx="416.7" cy="144.09" r="1.91" fill="#6a2a80" opacity="0.45"/>
<circle cx="423.08" cy="143.66" r="3.23" fill="#bc4480"/>
<circle cx="427.23" cy="142.57" r="3.07" fill="#d0508a"/>
<circle cx="427.04" cy="143.39" r="1.8" fill="#6a2a80" opacity="0.45"/>
<circle cx="437.25" cy="143.08" r="3.55" fill="#bc4480"/>
<circle cx="443.96" cy="145.62" r="3.17" fill="#d44874"/>
<circle cx="444.47" cy="145.89" r="1.93" fill="#6a2a80" opacity="0.45"/>
<circle cx="399.41" cy="149.88" r="3.57" fill="#c84c84"/>
<circle cx="399.77" cy="149.97" r="1.95" fill="#6a2a80" opacity="0.45"/>
<circle cx="403.59" cy="151.45" r="2.96" fill="#d0508a"/>
<circle cx="402.49" cy="151.53" r="1.61" fill="#6a2a80" opacity="0.45"/>
<circle cx="411.88" cy="151.18" r="3.32" fill="#c8447c"/>
<circle cx="411.08" cy="150.39" r="1.83" fill="#6a2a80" opacity="0.45"/>
<circle cx="419.49" cy="151.56" r="3.77" fill="#d0508a"/>
<circle cx="419.21" cy="151.91" r="1.87" fill="#6a2a80" opacity="0.45"/>
<circle cx="426.48" cy="148.69" r="3.5" fill="#bc4480"/>
<circle cx="431.11" cy="151.2" r="2.89" fill="#c84c84"/>
<circle cx="431.3" cy="151.79" r="1.59" fill="#6a2a80" opacity="0.45"/>
<circle cx="447.52" cy="149.87" r="2.91" fill="#d0508a"/>
<circle cx="446.85" cy="148.9" r="1.64" fill="#6a2a80" opacity="0.45"/>
<circle cx="453.48" cy="149.96" r="3.44" fill="#d44874"/>
<circle cx="453.35" cy="150.41" r="1.59" fill="#6a2a80" opacity="0.45"/>
<circle cx="401.97" cy="154.29" r="3.18" fill="#bc4480"/>
<circle cx="400.78" cy="154.11" r="1.72" fill="#6a2a80" opacity="0.45"/>
<circle cx="407.65" cy="156.53" r="3.17" fill="#c84c84"/>
<circle cx="406.71" cy="156.43" r="1.7" fill="#6a2a80" opacity="0.45"/>
<circle cx="416.38" cy="156.45" r="3.28" fill="#d0508a"/>
<circle cx="416.43" cy="155.31" r="2" fill="#6a2a80" opacity="0.45"/>
<circle cx="421.58" cy="156.44" r="3.38" fill="#d44874"/>
<circle cx="422.39" cy="156.71" r="2.01" fill="#6a2a80" opacity="0.45"/>
<circle cx="430.02" cy="155.44" r="3.76" fill="#d44874"/>
<circle cx="430.38" cy="155.3" r="2.07" fill="#6a2a80" opacity="0.45"/>
<circle cx="444.05" cy="156.01" r="3.04" fill="#c8447c"/>
<circle cx="443.33" cy="156.09" r="1.91" fill="#6a2a80" opacity="0.45"/>
<circle cx="497.53" cy="156.39" r="3.37" fill="#c84c84"/>
<circle cx="496.34" cy="156.22" r="1.72" fill="#6a2a80" opacity="0.45"/>
<circle cx="503.6" cy="155.02" r="3.07" fill="#d0508a"/>
<circle cx="504.26" cy="154.09" r="1.61" fill="#6a2a80" opacity="0.45"/>
<circle cx="397.26" cy="160.29" r="3.34" fill="#c84c84"/>
<circle cx="397.02" cy="160.17" r="1.78" fill="#6a2a80" opacity="0.45"/>
<circle cx="404.69" cy="162.24" r="3.53" fill="#c8447c"/>
<circle cx="404.75" cy="161.53" r="2.07" fill="#6a2a80" opacity="0.45"/>
<circle cx="411.01" cy="163.23" r="2.94" fill="#bc4480"/>
<circle cx="411.9" cy="164.24" r="1.79" fill="#6a2a80" opacity="0.45"/>
<circle cx="418.38" cy="161.11" r="3.28" fill="#d0508a"/>
<circle cx="419.34" cy="161.26" r="2.02" fill="#6a2a80" opacity="0.45"/>
<circle cx="424.19" cy="162.99" r="3.5" fill="#d0508a"/>
<circle cx="423.48" cy="163.19" r="2.08" fill="#6a2a80" opacity="0.45"/>
<circle cx="430.72" cy="162.25" r="2.81" fill="#c8447c"/>
<circle cx="430.8" cy="163.07" r="1.47" fill="#6a2a80" opacity="0.45"/>
<circle cx="439.25" cy="161.32" r="3.57" fill="#c8447c"/>
<circle cx="439.09" cy="162.07" r="2.05" fill="#6a2a80" opacity="0.45"/>
<circle cx="447.46" cy="162.95" r="3.22" fill="#c84c84"/>
<circle cx="446.62" cy="162.77" r="1.52" fill="#6a2a80" opacity="0.45"/>
<circle cx="472.59" cy="163.2" r="3.3" fill="#c8447c"/>
<circle cx="472.51" cy="163.99" r="2.08" fill="#6a2a80" opacity="0.45"/>
<circle cx="408.47" cy="167.05" r="3.41" fill="#c8447c"/>
<circle cx="408.15" cy="168.23" r="2.03" fill="#6a2a80" opacity="0.45"/>
<circle cx="414.01" cy="168.19" r="3.59" fill="#bc4480"/>
<circle cx="413.96" cy="168.92" r="1.94" fill="#6a2a80" opacity="0.45"/>
<circle cx="421.4" cy="168.74" r="2.86" fill="#bc4480"/>
<circle cx="421.49" cy="167.95" r="1.53" fill="#6a2a80" opacity="0.45"/>
<circle cx="427.24" cy="167.89" r="3.3" fill="#d0508a"/>
<circle cx="437.18" cy="168.74" r="2.84" fill="#c8447c"/>
<circle cx="436.69" cy="169.5" r="1.32" fill="#6a2a80" opacity="0.45"/>
<circle cx="484.13" cy="168.09" r="3.19" fill="#d44874"/>
<circle cx="483.13" cy="168.46" r="1.63" fill="#6a2a80" opacity="0.45"/>
<circle cx="498.22" cy="167.94" r="3.15" fill="#c8447c"/>
<circle cx="498" cy="167.5" r="1.96" fill="#6a2a80" opacity="0.45"/>
<circle cx="399.7" cy="173.31" r="2.83" fill="#c8447c"/>
<circle cx="400.13" cy="172.4" r="1.57" fill="#6a2a80" opacity="0.45"/>
<circle cx="406.3" cy="172.66" r="3.1" fill="#c8447c"/>
<circle cx="407.19" cy="173.1" r="1.45" fill="#6a2a80" opacity="0.45"/>
<circle cx="413.02" cy="172.22" r="3.25" fill="#d0508a"/>
<circle cx="412.95" cy="172.08" r="1.56" fill="#6a2a80" opacity="0.45"/>
<circle cx="419.36" cy="173.47" r="3.45" fill="#bc4480"/>
<circle cx="419.54" cy="174.6" r="1.91" fill="#6a2a80" opacity="0.45"/>
<circle cx="426.45" cy="175.09" r="3.72" fill="#bc4480"/>
<circle cx="426.67" cy="174.07" r="1.95" fill="#6a2a80" opacity="0.45"/>
<circle cx="432.23" cy="173.86" r="3.17" fill="#d0508a"/>
<circle cx="431.86" cy="174.93" r="1.48" fill="#6a2a80" opacity="0.45"/>
<circle cx="438.52" cy="172.52" r="3.33" fill="#bc4480"/>
<circle cx="446.96" cy="172.23" r="3.51" fill="#bc4480"/>
<circle cx="446.87" cy="171.26" r="2.19" fill="#6a2a80" opacity="0.45"/>
<circle cx="467.99" cy="174.38" r="3.73" fill="#bc4480"/>
<circle cx="469.11" cy="174.86" r="2.37" fill="#6a2a80" opacity="0.45"/>
<circle cx="481.44" cy="174.42" r="3.75" fill="#d44874"/>
<circle cx="480.92" cy="173.85" r="2.3" fill="#6a2a80" opacity="0.45"/>
<circle cx="485.99" cy="175.12" r="3.78" fill="#d44874"/>
<circle cx="486.03" cy="174.14" r="2.09" fill="#6a2a80" opacity="0.45"/>
<circle cx="493.88" cy="173.4" r="3.1" fill="#d0508a"/>
<circle cx="493.15" cy="173.95" r="1.98" fill="#6a2a80" opacity="0.45"/>
<circle cx="500.72" cy="172.14" r="2.97" fill="#c8447c"/>
<circle cx="500.57" cy="173.05" r="1.52" fill="#6a2a80" opacity="0.45"/>
<circle cx="506.69" cy="172.24" r="3.73" fill="#bc4480"/>
<circle cx="507.74" cy="171.3" r="1.68" fill="#6a2a80" opacity="0.45"/>
<circle cx="400.46" cy="179.38" r="2.88" fill="#c84c84"/>
<circle cx="399.36" cy="178.44" r="1.73" fill="#6a2a80" opacity="0.45"/>
<circle cx="408.84" cy="179.58" r="3.25" fill="#c8447c"/>
<circle cx="407.84" cy="179.88" r="1.65" fill="#6a2a80" opacity="0.45"/>
<circle cx="414.87" cy="178.1" r="3.53" fill="#c84c84"/>
<circle cx="414.77" cy="177.29" r="1.83" fill="#6a2a80" opacity="0.45"/>
<circle cx="420.91" cy="180.06" r="3.33" fill="#d44874"/>
<circle cx="420.66" cy="179.98" r="1.81" fill="#6a2a80" opacity="0.45"/>
<circle cx="430.3" cy="179.8" r="3.19" fill="#c8447c"/>
<circle cx="430.23" cy="179.37" r="1.83" fill="#6a2a80" opacity="0.45"/>
<circle cx="434.9" cy="179.79" r="3.72" fill="#c8447c"/>
<circle cx="434.35" cy="180.8" r="1.93" fill="#6a2a80" opacity="0.45"/>
<circle cx="443.35" cy="179.67" r="3.1" fill="#c8447c"/>
<circle cx="444.21" cy="180.86" r="1.48" fill="#6a2a80" opacity="0.45"/>
<circle cx="461.49" cy="180.18" r="3.35" fill="#d44874"/>
<circle cx="460.96" cy="179.4" r="1.78" fill="#6a2a80" opacity="0.45"/>
<circle cx="468.42" cy="179.93" r="3.63" fill="#d0508a"/>
<circle cx="467.69" cy="179.1" r="2.29" fill="#6a2a80" opacity="0.45"/>
<circle cx="477.78" cy="179.55" r="2.94" fill="#d44874"/>
<circle cx="477.27" cy="178.43" r="1.81" fill="#6a2a80" opacity="0.45"/>
<circle cx="497.52" cy="178.67" r="3.15" fill="#d0508a"/>
<circle cx="497.51" cy="178.86" r="1.74" fill="#6a2a80" opacity="0.45"/>
<circle cx="509.28" cy="180.04" r="3.29" fill="#c8447c"/>
<circle cx="508.81" cy="179.65" r="1.89" fill="#6a2a80" opacity="0.45"/>
<circle cx="397.4" cy="184.96" r="3.37" fill="#c84c84"/>
<circle cx="396.23" cy="184.23" r="1.54" fill="#6a2a80" opacity="0.45"/>
<circle cx="404.59" cy="185.14" r="3.01" fill="#d0508a"/>
<circle cx="403.49" cy="184.48" r="1.95" fill="#6a2a80" opacity="0.45"/>
<circle cx="413.03" cy="186.03" r="3.25" fill="#bc4480"/>
<circle cx="412.92" cy="184.91" r="1.54" fill="#6a2a80" opacity="0.45"/>
<circle cx="418.47" cy="186.72" r="2.86" fill="#c84c84"/>
<circle cx="418.94" cy="185.81" r="1.8" fill="#6a2a80" opacity="0.45"/>
<circle cx="425.81" cy="185.78" r="2.89" fill="#c8447c"/>
<circle cx="426.76" cy="185.98" r="1.83" fill="#6a2a80" opacity="0.45"/>
<circle cx="431.94" cy="184.16" r="3.14" fill="#bc4480"/>
<circle cx="431.36" cy="183.36" r="1.58" fill="#6a2a80" opacity="0.45"/>
<circle cx="438.09" cy="183.96" r="2.95" fill="#c8447c"/>
<circle cx="437.47" cy="185.07" r="1.82" fill="#6a2a80" opacity="0.45"/>
<circle cx="445.84" cy="186.41" r="3.76" fill="#bc4480"/>
<circle cx="445.19" cy="185.35" r="2.26" fill="#6a2a80" opacity="0.45"/>
<circle cx="452.6" cy="186.85" r="3.07" fill="#d44874"/>
<circle cx="452.99" cy="185.89" r="1.68" fill="#6a2a80" opacity="0.45"/>
<circle cx="459.26" cy="185.41" r="3.08" fill="#bc4480"/>
<circle cx="458.41" cy="185.99" r="1.95" fill="#6a2a80" opacity="0.45"/>
<circle cx="465.13" cy="184.37" r="3.58" fill="#bc4480"/>
<circle cx="466.22" cy="184.34" r="2.21" fill="#6a2a80" opacity="0.45"/>
<circle cx="472.71" cy="186.82" r="3.54" fill="#c8447c"/>
<circle cx="472.28" cy="186.56" r="1.82" fill="#6a2a80" opacity="0.45"/>
<circle cx="479.06" cy="184.77" r="3.06" fill="#c84c84"/>
<circle cx="485.98" cy="184.63" r="3.63" fill="#d44874"/>
<circle cx="485.13" cy="183.45" r="2.06" fill="#6a2a80" opacity="0.45"/>
<circle cx="491.91" cy="186.97" r="3.42" fill="#c84c84"/>
<circle cx="501.79" cy="186.17" r="3.19" fill="#d44874"/>
<circle cx="501.14" cy="185.46" r="1.86" fill="#6a2a80" opacity="0.45"/>
<circle cx="507" cy="187.04" r="3.43" fill="#d44874"/>
<circle cx="507.82" cy="186.18" r="2.06" fill="#6a2a80" opacity="0.45"/>
<circle cx="514.47" cy="184.82" r="3.05" fill="#c84c84"/>
<circle cx="514.69" cy="185.31" r="1.82" fill="#6a2a80" opacity="0.45"/>
<circle cx="402.48" cy="190.3" r="3.07" fill="#d0508a"/>
<circle cx="402.33" cy="189.83" r="1.54" fill="#6a2a80" opacity="0.45"/>
<circle cx="406.88" cy="190.53" r="3.67" fill="#d44874"/>
<circle cx="406.8" cy="190.64" r="1.72" fill="#6a2a80" opacity="0.45"/>
<circle cx="414.96" cy="193.05" r="3.24" fill="#bc4480"/>
<circle cx="416.03" cy="194.23" r="1.47" fill="#6a2a80" opacity="0.45"/>
<circle cx="421.46" cy="191.34" r="3.69" fill="#c8447c"/>
<circle cx="421.71" cy="191.71" r="1.89" fill="#6a2a80" opacity="0.45"/>
<circle cx="429.69" cy="192.18" r="2.98" fill="#bc4480"/>
<circle cx="430.53" cy="192.44" r="1.54" fill="#6a2a80" opacity="0.45"/>
<circle cx="434.82" cy="192.03" r="2.94" fill="#c84c84"/>
<circle cx="434.96" cy="191.3" r="1.38" fill="#6a2a80" opacity="0.45"/>
<circle cx="447.62" cy="189.95" r="2.86" fill="#c8447c"/>
<circle cx="455.79" cy="189.9" r="3.54" fill="#c84c84"/>
<circle cx="454.67" cy="189.34" r="1.71" fill="#6a2a80" opacity="0.45"/>
<circle cx="464.56" cy="191.51" r="3.36" fill="#d0508a"/>
<circle cx="464.01" cy="191.84" r="1.72" fill="#6a2a80" opacity="0.45"/>
<circle cx="476.47" cy="192.93" r="2.81" fill="#c8447c"/>
<circle cx="475.32" cy="192.27" r="1.42" fill="#6a2a80" opacity="0.45"/>
<circle cx="482.43" cy="189.92" r="2.85" fill="#d0508a"/>
<circle cx="481.85" cy="189.87" r="1.56" fill="#6a2a80" opacity="0.45"/>
<circle cx="488.6" cy="190.61" r="3.62" fill="#c84c84"/>
<circle cx="489.54" cy="191.78" r="2.31" fill="#6a2a80" opacity="0.45"/>
<circle cx="496.24" cy="189.92" r="3.29" fill="#c8447c"/>
<circle cx="497.34" cy="190.19" r="1.51" fill="#6a2a80" opacity="0.45"/>
<circle cx="505.3" cy="190.35" r="3.67" fill="#d44874"/>
<circle cx="504.72" cy="190.36" r="1.78" fill="#6a2a80" opacity="0.45"/>
<circle cx="510.17" cy="191.55" r="2.84" fill="#d0508a"/>
<circle cx="510.44" cy="191.96" r="1.81" fill="#6a2a80" opacity="0.45"/>
<circle cx="397.67" cy="196.03" r="3.39" fill="#c84c84"/>
<circle cx="398.35" cy="196.41" r="1.72" fill="#6a2a80" opacity="0.45"/>
<circle cx="406.53" cy="197.69" r="2.92" fill="#c84c84"/>
<circle cx="406.48" cy="198.53" r="1.42" fill="#6a2a80" opacity="0.45"/>
<circle cx="410.93" cy="195.72" r="3.52" fill="#d0508a"/>
<circle cx="410.91" cy="196.03" r="1.75" fill="#6a2a80" opacity="0.45"/>
<circle cx="418.65" cy="197.6" r="3.41" fill="#c84c84"/>
<circle cx="419.17" cy="198.7" r="1.59" fill="#6a2a80" opacity="0.45"/>
<circle cx="425.93" cy="198.13" r="3.41" fill="#d0508a"/>
<circle cx="426.02" cy="198.82" r="2.12" fill="#6a2a80" opacity="0.45"/>
<circle cx="431.65" cy="197.19" r="3.02" fill="#c84c84"/>
<circle cx="432.12" cy="197.62" r="1.45" fill="#6a2a80" opacity="0.45"/>
<circle cx="438.16" cy="196.05" r="3.74" fill="#c8447c"/>
<circle cx="438.95" cy="195.01" r="2" fill="#6a2a80" opacity="0.45"/>
<circle cx="444.5" cy="198.29" r="2.91" fill="#c84c84"/>
<circle cx="452.06" cy="196.1" r="2.87" fill="#c8447c"/>
<circle cx="452.71" cy="196.18" r="1.67" fill="#6a2a80" opacity="0.45"/>
<circle cx="458.63" cy="195.95" r="3.48" fill="#bc4480"/>
<circle cx="459.76" cy="195.93" r="1.91" fill="#6a2a80" opacity="0.45"/>
<circle cx="466.56" cy="196.49" r="2.9" fill="#d44874"/>
<circle cx="467.21" cy="196.7" r="1.31" fill="#6a2a80" opacity="0.45"/>
<circle cx="473.78" cy="195.82" r="2.87" fill="#c8447c"/>
<circle cx="473.9" cy="195.23" r="1.85" fill="#6a2a80" opacity="0.45"/>
<circle cx="479.17" cy="196.93" r="3.26" fill="#c84c84"/>
<circle cx="478.55" cy="197.33" r="1.84" fill="#6a2a80" opacity="0.45"/>
<circle cx="486.43" cy="196.73" r="3.45" fill="#d0508a"/>
<circle cx="486.22" cy="196.05" r="1.85" fill="#6a2a80" opacity="0.45"/>
<circle cx="493.69" cy="198.71" r="3.69" fill="#bc4480"/>
<circle cx="492.85" cy="198.26" r="2.23" fill="#6a2a80" opacity="0.45"/>
<circle cx="501.18" cy="197.61" r="3.52" fill="#bc4480"/>
<circle cx="502.37" cy="196.66" r="1.98" fill="#6a2a80" opacity="0.45"/>
<circle cx="514.68" cy="198.04" r="2.87" fill="#bc4480"/>
<circle cx="514.73" cy="197.49" r="1.38" fill="#6a2a80" opacity="0.45"/>
<circle cx="402.76" cy="202.88" r="3.44" fill="#c8447c"/>
<circle cx="402.28" cy="202.03" r="2.19" fill="#6a2a80" opacity="0.45"/>
<circle cx="407.02" cy="202.15" r="3.64" fill="#c84c84"/>
<circle cx="408.1" cy="201.06" r="2.29" fill="#6a2a80" opacity="0.45"/>
<circle cx="415.9" cy="202.55" r="2.92" fill="#d0508a"/>
<circle cx="414.97" cy="203.35" r="1.62" fill="#6a2a80" opacity="0.45"/>
<circle cx="423" cy="203.47" r="3.55" fill="#d0508a"/>
<circle cx="423.74" cy="202.29" r="1.82" fill="#6a2a80" opacity="0.45"/>
<circle cx="427.37" cy="202.02" r="3.06" fill="#d0508a"/>
<circle cx="427.9" cy="202.33" r="1.6" fill="#6a2a80" opacity="0.45"/>
<circle cx="436.92" cy="204.8" r="3.1" fill="#d44874"/>
<circle cx="441.59" cy="203.03" r="2.81" fill="#bc4480"/>
<circle cx="441.41" cy="203.08" r="1.52" fill="#6a2a80" opacity="0.45"/>
<circle cx="448.72" cy="201.62" r="3.56" fill="#bc4480"/>
<circle cx="449.9" cy="200.66" r="1.97" fill="#6a2a80" opacity="0.45"/>
<circle cx="457.21" cy="204.05" r="3.32" fill="#c8447c"/>
<circle cx="457.03" cy="203.1" r="1.65" fill="#6a2a80" opacity="0.45"/>
<circle cx="463" cy="202.16" r="3.7" fill="#d44874"/>
<circle cx="463.06" cy="202.57" r="2.16" fill="#6a2a80" opacity="0.45"/>
<circle cx="469.52" cy="204.77" r="3.27" fill="#d44874"/>
<circle cx="468.8" cy="205.27" r="1.49" fill="#6a2a80" opacity="0.45"/>
<circle cx="475.2" cy="202.65" r="2.96" fill="#d44874"/>
<circle cx="474.03" cy="203.07" r="1.53" fill="#6a2a80" opacity="0.45"/>
<circle cx="483.17" cy="203.05" r="3.02" fill="#c84c84"/>
<circle cx="491.01" cy="204.76" r="3.07" fill="#d0508a"/>
<circle cx="490.35" cy="204.73" r="1.53" fill="#6a2a80" opacity="0.45"/>
<circle cx="498.5" cy="203.6" r="3.74" fill="#bc4480"/>
<circle cx="499.43" cy="203.79" r="1.9" fill="#6a2a80" opacity="0.45"/>
<circle cx="504.77" cy="203" r="3.01" fill="#d0508a"/>
<circle cx="505.7" cy="204.05" r="1.75" fill="#6a2a80" opacity="0.45"/>
<circle cx="512.13" cy="201.69" r="2.89" fill="#c8447c"/>
<circle cx="512.17" cy="202.58" r="1.39" fill="#6a2a80" opacity="0.45"/>
<circle cx="398.24" cy="210.49" r="3.15" fill="#bc4480"/>
<circle cx="397.19" cy="210.54" r="1.53" fill="#6a2a80" opacity="0.45"/>
<circle cx="404.13" cy="208.43" r="2.88" fill="#d0508a"/>
<circle cx="412.11" cy="208.71" r="3.23" fill="#d0508a"/>
<circle cx="412.99" cy="208.57" r="1.56" fill="#6a2a80" opacity="0.45"/>
<circle cx="417.82" cy="208.69" r="3.42" fill="#bc4480"/>
<circle cx="418.75" cy="208.2" r="2.21" fill="#6a2a80" opacity="0.45"/>
<circle cx="427.14" cy="210.35" r="3.45" fill="#bc4480"/>
<circle cx="426.8" cy="210.61" r="2.23" fill="#6a2a80" opacity="0.45"/>
<circle cx="432.7" cy="208.85" r="2.98" fill="#c84c84"/>
<circle cx="432.17" cy="209.23" r="1.88" fill="#6a2a80" opacity="0.45"/>
<circle cx="440.23" cy="209.16" r="2.94" fill="#d44874"/>
<circle cx="439.86" cy="208.79" r="1.42" fill="#6a2a80" opacity="0.45"/>
<circle cx="444.78" cy="207.83" r="3.29" fill="#c84c84"/>
<circle cx="444.56" cy="208.08" r="1.76" fill="#6a2a80" opacity="0.45"/>
<circle cx="454.06" cy="208.17" r="3.49" fill="#c84c84"/>
<circle cx="454.67" cy="209.21" r="1.59" fill="#6a2a80" opacity="0.45"/>
<circle cx="458.9" cy="209.81" r="3.25" fill="#c8447c"/>
<circle cx="458.17" cy="210.39" r="1.95" fill="#6a2a80" opacity="0.45"/>
<circle cx="466.72" cy="210.21" r="3.37" fill="#d44874"/>
<circle cx="471.43" cy="209.23" r="3.71" fill="#c8447c"/>
<circle cx="470.7" cy="208.56" r="1.75" fill="#6a2a80" opacity="0.45"/>
<circle cx="478.83" cy="208.81" r="2.95" fill="#c8447c"/>
<circle cx="478.38" cy="208.16" r="1.42" fill="#6a2a80" opacity="0.45"/>
<circle cx="485.09" cy="208.55" r="3.07" fill="#bc4480"/>
<circle cx="485.77" cy="208.53" r="1.49" fill="#6a2a80" opacity="0.45"/>
<circle cx="493.42" cy="209.88" r="3.29" fill="#c8447c"/>
<circle cx="493.01" cy="208.89" r="1.81" fill="#6a2a80" opacity="0.45"/>
<circle cx="501.94" cy="210.26" r="3.34" fill="#bc4480"/>
<circle cx="501.1" cy="209.85" r="1.97" fill="#6a2a80" opacity="0.45"/>
<circle cx="507.76" cy="209.77" r="3.7" fill="#c84c84"/>
<circle cx="508.83" cy="209.62" r="2.25" fill="#6a2a80" opacity="0.45"/>
<circle cx="514.92" cy="208.73" r="3.35" fill="#d44874"/>
<circle cx="402.31" cy="215.18" r="3.46" fill="#c8447c"/>
<circle cx="402.82" cy="214.45" r="1.85" fill="#6a2a80" opacity="0.45"/>
<circle cx="407.06" cy="213.7" r="3.22" fill="#c84c84"/>
<circle cx="407.56" cy="213.88" r="1.9" fill="#6a2a80" opacity="0.45"/>
<circle cx="415.57" cy="215.99" r="3.58" fill="#c8447c"/>
<circle cx="416.45" cy="216.13" r="2.29" fill="#6a2a80" opacity="0.45"/>
<circle cx="421.44" cy="216.57" r="3.63" fill="#c8447c"/>
<circle cx="420.77" cy="217.74" r="1.77" fill="#6a2a80" opacity="0.45"/>
<circle cx="429.63" cy="213.65" r="3.1" fill="#d44874"/>
<circle cx="436.28" cy="216.66" r="2.91" fill="#bc4480"/>
<circle cx="437.21" cy="216.93" r="1.72" fill="#6a2a80" opacity="0.45"/>
<circle cx="443.14" cy="216.26" r="3.06" fill="#c84c84"/>
<circle cx="443.1" cy="217.45" r="1.62" fill="#6a2a80" opacity="0.45"/>
<circle cx="449.68" cy="214.12" r="3.16" fill="#d0508a"/>
<circle cx="449.11" cy="213.71" r="2.04" fill="#6a2a80" opacity="0.45"/>
<circle cx="463.05" cy="214.75" r="3.69" fill="#d0508a"/>
<circle cx="463.2" cy="215.12" r="1.85" fill="#6a2a80" opacity="0.45"/>
<circle cx="469.33" cy="214.01" r="3.07" fill="#c8447c"/>
<circle cx="468.33" cy="213.06" r="1.63" fill="#6a2a80" opacity="0.45"/>
<circle cx="477.86" cy="216.5" r="3.43" fill="#d44874"/>
<circle cx="477.52" cy="215.62" r="2.14" fill="#6a2a80" opacity="0.45"/>
<circle cx="482.91" cy="213.78" r="3.44" fill="#c8447c"/>
<circle cx="482.61" cy="214.4" r="1.94" fill="#6a2a80" opacity="0.45"/>
<circle cx="490.28" cy="215.84" r="3.75" fill="#c8447c"/>
<circle cx="491.46" cy="216.53" r="2.16" fill="#6a2a80" opacity="0.45"/>
<circle cx="498.22" cy="214.13" r="2.92" fill="#c84c84"/>
<circle cx="498.4" cy="213.21" r="1.39" fill="#6a2a80" opacity="0.45"/>
<circle cx="502.91" cy="215.52" r="3.57" fill="#c8447c"/>
<circle cx="502.02" cy="216.28" r="2.14" fill="#6a2a80" opacity="0.45"/>
<circle cx="509.37" cy="215.56" r="3.14" fill="#c8447c"/>
<circle cx="508.49" cy="216.18" r="1.55" fill="#6a2a80" opacity="0.45"/>
<circle cx="397.36" cy="219.54" r="2.91" fill="#d0508a"/>
<circle cx="396.82" cy="218.34" r="1.65" fill="#6a2a80" opacity="0.45"/>
<circle cx="406.22" cy="222.31" r="3.43" fill="#c84c84"/>
<circle cx="407.39" cy="221.66" r="2.05" fill="#6a2a80" opacity="0.45"/>
<circle cx="411.62" cy="220.77" r="3.64" fill="#d0508a"/>
<circle cx="411.61" cy="219.83" r="1.74" fill="#6a2a80" opacity="0.45"/>
<circle cx="420.08" cy="220.35" r="3.38" fill="#d0508a"/>
<circle cx="421.06" cy="220.6" r="1.86" fill="#6a2a80" opacity="0.45"/>
<circle cx="425.86" cy="222.61" r="2.85" fill="#c84c84"/>
<circle cx="425.64" cy="222.05" r="1.67" fill="#6a2a80" opacity="0.45"/>
<circle cx="430.7" cy="219.72" r="3.77" fill="#d0508a"/>
<circle cx="430.5" cy="220.89" r="2.14" fill="#6a2a80" opacity="0.45"/>
<circle cx="439.45" cy="219.95" r="3.19" fill="#d0508a"/>
<circle cx="439.43" cy="220.71" r="1.64" fill="#6a2a80" opacity="0.45"/>
<circle cx="446.22" cy="221.52" r="3.43" fill="#bc4480"/>
<circle cx="447.27" cy="222.63" r="1.63" fill="#6a2a80" opacity="0.45"/>
<circle cx="453.48" cy="219.53" r="3.52" fill="#c8447c"/>
<circle cx="460.64" cy="222.58" r="3.06" fill="#c8447c"/>
<circle cx="461.38" cy="222.66" r="1.95" fill="#6a2a80" opacity="0.45"/>
<circle cx="467.49" cy="221.52" r="3.21" fill="#bc4480"/>
<circle cx="468.44" cy="221.31" r="1.5" fill="#6a2a80" opacity="0.45"/>
<circle cx="472.18" cy="221.69" r="3.13" fill="#bc4480"/>
<circle cx="471.28" cy="222.13" r="1.45" fill="#6a2a80" opacity="0.45"/>
<circle cx="479.82" cy="219.67" r="2.9" fill="#d44874"/>
<circle cx="479.08" cy="220.75" r="1.59" fill="#6a2a80" opacity="0.45"/>
<circle cx="485.53" cy="219.64" r="2.87" fill="#bc4480"/>
<circle cx="485.77" cy="218.9" r="1.86" fill="#6a2a80" opacity="0.45"/>
<circle cx="493.89" cy="219.68" r="3.51" fill="#c8447c"/>
<circle cx="501.1" cy="222.1" r="3.21" fill="#bc4480"/>
<circle cx="501.66" cy="223.07" r="1.83" fill="#6a2a80" opacity="0.45"/>
<circle cx="514.33" cy="222.61" r="3.67" fill="#c84c84"/>
<circle cx="400.35" cy="225.46" r="2.87" fill="#bc4480"/>
<circle cx="408.07" cy="226.8" r="3.1" fill="#d44874"/>
<circle cx="406.9" cy="226.66" r="1.52" fill="#6a2a80" opacity="0.45"/>
<circle cx="416.13" cy="225.52" r="2.98" fill="#c8447c"/>
<circle cx="416.81" cy="225.51" r="1.64" fill="#6a2a80" opacity="0.45"/>
<circle cx="422.25" cy="226.52" r="3.74" fill="#d0508a"/>
<circle cx="422.67" cy="226.08" r="2.12" fill="#6a2a80" opacity="0.45"/>
<circle cx="429.23" cy="226.51" r="3.59" fill="#d44874"/>
<circle cx="430.15" cy="225.46" r="1.63" fill="#6a2a80" opacity="0.45"/>
<circle cx="435.68" cy="228.51" r="3.69" fill="#bc4480"/>
<circle cx="434.72" cy="227.59" r="2.3" fill="#6a2a80" opacity="0.45"/>
<circle cx="441.05" cy="227.82" r="3.31" fill="#c8447c"/>
<circle cx="440.41" cy="227.73" r="1.5" fill="#6a2a80" opacity="0.45"/>
<circle cx="448.61" cy="225.64" r="2.91" fill="#c84c84"/>
<circle cx="447.68" cy="226.27" r="1.72" fill="#6a2a80" opacity="0.45"/>
<circle cx="455.6" cy="227.75" r="3.22" fill="#d0508a"/>
<circle cx="454.94" cy="228.87" r="1.81" fill="#6a2a80" opacity="0.45"/>
<circle cx="462.5" cy="226.23" r="3.03" fill="#d44874"/>
<circle cx="463.67" cy="227.38" r="1.47" fill="#6a2a80" opacity="0.45"/>
<circle cx="470.37" cy="227.92" r="2.83" fill="#c84c84"/>
<circle cx="470.59" cy="228.22" r="1.28" fill="#6a2a80" opacity="0.45"/>
<circle cx="475.81" cy="226.39" r="3.36" fill="#bc4480"/>
<circle cx="483.37" cy="225.41" r="3.09" fill="#d0508a"/>
<circle cx="482.7" cy="225.52" r="1.66" fill="#6a2a80" opacity="0.45"/>
<circle cx="489.21" cy="227.51" r="2.91" fill="#c84c84"/>
<circle cx="490.21" cy="226.93" r="1.51" fill="#6a2a80" opacity="0.45"/>
<circle cx="496.12" cy="225.57" r="3.31" fill="#c8447c"/>
<circle cx="495.55" cy="224.85" r="1.92" fill="#6a2a80" opacity="0.45"/>
<circle cx="505.35" cy="227.08" r="3.73" fill="#d44874"/>
<circle cx="511.98" cy="225.55" r="3.74" fill="#bc4480"/>
<circle cx="511.81" cy="224.75" r="1.87" fill="#6a2a80" opacity="0.45"/>
<circle cx="399.36" cy="231.17" r="3.27" fill="#bc4480"/>
<circle cx="400.49" cy="232.25" r="1.83" fill="#6a2a80" opacity="0.45"/>
<circle cx="404.63" cy="231.21" r="2.91" fill="#bc4480"/>
<circle cx="405.76" cy="232.19" r="1.87" fill="#6a2a80" opacity="0.45"/>
<circle cx="411.76" cy="232.46" r="3.57" fill="#c8447c"/>
<circle cx="411.17" cy="233.11" r="1.8" fill="#6a2a80" opacity="0.45"/>
<circle cx="425.3" cy="232.76" r="2.92" fill="#d0508a"/>
<circle cx="431.55" cy="234.4" r="3.34" fill="#c84c84"/>
<circle cx="432.43" cy="235.07" r="1.66" fill="#6a2a80" opacity="0.45"/>
<circle cx="439.13" cy="231.34" r="2.89" fill="#c84c84"/>
<circle cx="438.55" cy="231.95" r="1.51" fill="#6a2a80" opacity="0.45"/>
<circle cx="446.85" cy="232.63" r="3.78" fill="#c84c84"/>
<circle cx="446.68" cy="231.51" r="1.91" fill="#6a2a80" opacity="0.45"/>
<circle cx="454.07" cy="233.35" r="3.34" fill="#d0508a"/>
<circle cx="453.13" cy="234.28" r="1.98" fill="#6a2a80" opacity="0.45"/>
<circle cx="457.92" cy="231.24" r="3.24" fill="#d44874"/>
<circle cx="466.01" cy="234.13" r="3.07" fill="#d44874"/>
<circle cx="466.25" cy="235.33" r="1.87" fill="#6a2a80" opacity="0.45"/>
<circle cx="480.77" cy="234.19" r="3.35" fill="#d0508a"/>
<circle cx="480.5" cy="234.83" r="1.56" fill="#6a2a80" opacity="0.45"/>
<circle cx="495.18" cy="231.89" r="3.77" fill="#bc4480"/>
<circle cx="495.38" cy="232.67" r="1.86" fill="#6a2a80" opacity="0.45"/>
<circle cx="499.52" cy="232.75" r="3.23" fill="#d0508a"/>
<circle cx="507.67" cy="231.58" r="3.01" fill="#c8447c"/>
<circle cx="513.76" cy="231.41" r="3.31" fill="#bc4480"/>
<circle cx="514.54" cy="231.55" r="1.66" fill="#6a2a80" opacity="0.45"/>
</g>
</g>
<circle cx="472.9" cy="56.5" r="1.5" fill="#3a1a20" opacity="0.8"/>
<circle cx="435.2" cy="74" r="1.4" fill="#3a1a20" opacity="0.8"/>
<circle cx="402.9" cy="102.3" r="2" fill="#3a1a20" opacity="0.8"/>
<circle cx="444.6" cy="107.7" r="1.3" fill="#3a1a20" opacity="0.8"/>
<circle cx="481" cy="35" r="1.1" fill="#3a1a20" opacity="0.8"/>
<circle cx="495.8" cy="53.9" r="1.2" fill="#3a1a20" opacity="0.8"/>
<circle cx="502.5" cy="78" r="1.1" fill="#3a1a20" opacity="0.8"/>
<circle cx="401.5" cy="40.4" r="1.1" fill="#3a1a20" opacity="0.8"/>
<circle cx="463.5" cy="88.9" r="1.1" fill="#3a1a20" opacity="0.8"/>
<circle cx="437.8" cy="144.2" r="1.5" fill="#3a1a20" opacity="0.8"/>
<circle cx="435.7" cy="169.5" r="2" fill="#3a1a20" opacity="0.8"/>
<circle cx="443.2" cy="173.8" r="1.8" fill="#3a1a20" opacity="0.8"/>
<circle cx="469" cy="138.8" r="1.8" fill="#3a1a20" opacity="0.8"/>
<circle cx="475" cy="141.5" r="1.5" fill="#3a1a20" opacity="0.8"/>
<circle cx="473.9" cy="166.3" r="2.2" fill="#3a1a20" opacity="0.8"/>
<circle cx="440" cy="167" r="1.2" fill="#3a1a20" opacity="0.8"/>
<line x1="342.4" y1="117.2" x2="373.3" y2="117.2" stroke="#fbf4fa" stroke-width="2"/>
<line x1="475.6" y1="117.7" x2="506.5" y2="117.7" stroke="#fbf4fa" stroke-width="2"/>
<line x1="327.2" y1="221.5" x2="376.5" y2="221.5" stroke="#fbf4fa" stroke-width="1.7"/>
<line x1="456.7" y1="221.6" x2="506" y2="221.6" stroke="#fbf4fa" stroke-width="1.7"/>
<text x="10.8" y="251.6" font-size="15.3" text-anchor="start" font-weight="bold" fill="#231f20" stroke="#231f20" stroke-width="0.5" textLength="9.6" lengthAdjust="spacingAndGlyphs">C</text>
<line x1="77" y1="260.5" x2="77" y2="358.5" stroke="#231f20" stroke-width="1.5"/>
<line x1="73.2" y1="264" x2="77" y2="264" stroke="#231f20" stroke-width="1.5"/>
<text x="69.8" y="267.6" font-size="10" text-anchor="end" font-weight="normal" fill="#231f20" stroke="#231f20" stroke-width="0.32" textLength="23.2" lengthAdjust="spacingAndGlyphs">1000</text>
<line x1="73.2" y1="287.43" x2="77" y2="287.43" stroke="#231f20" stroke-width="1.5"/>
<text x="69.8" y="291.03" font-size="10" text-anchor="end" font-weight="normal" fill="#231f20" stroke="#231f20" stroke-width="0.32" textLength="17.4" lengthAdjust="spacingAndGlyphs">750</text>
<line x1="73.2" y1="310.85" x2="77" y2="310.85" stroke="#231f20" stroke-width="1.5"/>
<text x="69.8" y="314.45" font-size="10" text-anchor="end" font-weight="normal" fill="#231f20" stroke="#231f20" stroke-width="0.32" textLength="17.4" lengthAdjust="spacingAndGlyphs">500</text>
<line x1="73.2" y1="334.27" x2="77" y2="334.27" stroke="#231f20" stroke-width="1.5"/>
<text x="69.8" y="337.88" font-size="10" text-anchor="end" font-weight="normal" fill="#231f20" stroke="#231f20" stroke-width="0.32" textLength="17.4" lengthAdjust="spacingAndGlyphs">250</text>
<line x1="73.2" y1="357.7" x2="77" y2="357.7" stroke="#231f20" stroke-width="1.5"/>
<text x="69.8" y="361.3" font-size="10" text-anchor="end" font-weight="normal" fill="#231f20" stroke="#231f20" stroke-width="0.32" textLength="5.8" lengthAdjust="spacingAndGlyphs">0</text>
<line x1="73.2" y1="357.7" x2="148.7" y2="357.7" stroke="#231f20" stroke-width="1.5"/>
<line x1="86.3" y1="357.7" x2="86.3" y2="361.2" stroke="#231f20" stroke-width="1.5"/>
<line x1="103.8" y1="357.7" x2="103.8" y2="361.2" stroke="#231f20" stroke-width="1.5"/>
<line x1="121.4" y1="357.7" x2="121.4" y2="361.2" stroke="#231f20" stroke-width="1.5"/>
<line x1="139.2" y1="357.7" x2="139.2" y2="361.2" stroke="#231f20" stroke-width="1.5"/>
<line x1="86.4" y1="353.55" x2="86.4" y2="351.89" stroke="#231f20" stroke-width="1.6"/>
<line x1="82.4" y1="351.89" x2="90.4" y2="351.89" stroke="#231f20" stroke-width="1.6"/>
<rect x="79.9" y="352.55" width="13" height="5.15" fill="#ad0d35"/>
<line x1="103.85" y1="353.55" x2="103.85" y2="351.89" stroke="#231f20" stroke-width="1.6"/>
<line x1="99.85" y1="351.89" x2="107.85" y2="351.89" stroke="#231f20" stroke-width="1.6"/>
<rect x="97.2" y="352.55" width="13.3" height="5.15" fill="#ad0d35"/>
<line x1="122.05" y1="310.91" x2="122.05" y2="300.54" stroke="#231f20" stroke-width="1.6"/>
<line x1="118.06" y1="300.54" x2="126.04" y2="300.54" stroke="#231f20" stroke-width="1.6"/>
<rect x="115.4" y="309.91" width="13.3" height="47.79" fill="#ad0d35"/>
<line x1="139.35" y1="294.98" x2="139.35" y2="285.08" stroke="#231f20" stroke-width="1.6"/>
<line x1="135.36" y1="285.08" x2="143.34" y2="285.08" stroke="#231f20" stroke-width="1.6"/>
<rect x="132.7" y="293.98" width="13.3" height="63.72" fill="#ad0d35"/>
<line x1="91.7" y1="254.7" x2="128.4" y2="254.7" stroke="#231f20" stroke-width="1.5"/>
<line x1="91.7" y1="254" x2="91.7" y2="262.2" stroke="#231f20" stroke-width="1.5"/>
<line x1="128.4" y1="254" x2="128.4" y2="262.2" stroke="#231f20" stroke-width="1.5"/>
<line x1="83" y1="261.6" x2="101.5" y2="261.6" stroke="#231f20" stroke-width="1.5"/>
<line x1="118.8" y1="261.6" x2="137.6" y2="261.6" stroke="#231f20" stroke-width="1.5"/>
<text x="110.2" y="255.3" font-size="10" text-anchor="middle" letter-spacing="1" fill="#231f20" stroke="#231f20" stroke-width="0.3">**</text>
<line x1="120.6" y1="278.4" x2="139.9" y2="278.4" stroke="#231f20" stroke-width="1.5"/>
<text x="130" y="276.5" font-size="9" text-anchor="middle" font-weight="normal" fill="#231f20" stroke="#231f20" stroke-width="0.32">*</text>
<text x="42.4" y="331.7" font-size="10.5" text-anchor="start" font-weight="normal" fill="#231f20" stroke="#231f20" stroke-width="0.32" transform="rotate(-90 42.4 331.7)" textLength="44.5" lengthAdjust="spacingAndGlyphs">ROS levels</text>
<text x="64.5" y="399.5" font-size="10" text-anchor="start" font-weight="normal" fill="#231f20" stroke="#231f20" stroke-width="0.32" transform="rotate(-45 64.5 399.5)">NRF2<tspan dy="-4.5" font-size="8.3">+/+</tspan></text>
<text x="85.7" y="395.7" font-size="10" text-anchor="start" font-weight="normal" fill="#231f20" stroke="#231f20" stroke-width="0.32" transform="rotate(-45 85.7 395.7)">NRF2<tspan dy="-4.5" font-size="8.3">-/-</tspan></text>
<text x="83.2" y="419.5" font-size="10" text-anchor="start" font-weight="normal" fill="#231f20" stroke="#231f20" stroke-width="0.32" transform="rotate(-45 83.2 419.5)">SCD/NRF2<tspan dy="-4.5" font-size="8.3">+/+</tspan></text>
<text x="104.5" y="415.7" font-size="10" text-anchor="start" font-weight="normal" fill="#231f20" stroke="#231f20" stroke-width="0.32" transform="rotate(-45 104.5 415.7)">SCD/NRF2<tspan dy="-4.5" font-size="8.3">-/-</tspan></text>
<text x="254.1" y="251.4" font-size="15.3" text-anchor="start" font-weight="bold" fill="#231f20" stroke="#231f20" stroke-width="0.5" textLength="10.1" lengthAdjust="spacingAndGlyphs">D</text>
<text x="281.7" y="260" font-size="10" text-anchor="start" font-weight="normal" fill="#231f20" stroke="#231f20" stroke-width="0.32">SCD/NRF2<tspan dy="-4.5" font-size="8.3">+/+</tspan></text>
<text x="356.3" y="260" font-size="10" text-anchor="start" font-weight="normal" fill="#231f20" stroke="#231f20" stroke-width="0.32">SCD/NRF2<tspan dy="-4.5" font-size="8.3">-/-</tspan></text>
<line x1="281.7" y1="264.2" x2="346.4" y2="264.2" stroke="#231f20" stroke-width="1.8"/>
<line x1="356.3" y1="264.2" x2="420.8" y2="264.2" stroke="#231f20" stroke-width="1.8"/>
<rect x="282.3" y="268.5" width="145" height="16.7" fill="#f0f0f0" stroke="#231f20" stroke-width="1.5"/>
<text x="432.2" y="280.2" font-size="10" text-anchor="start" font-weight="normal" fill="#231f20" stroke="#231f20" stroke-width="0.32">HMOX1</text>
<rect x="282.3" y="291.4" width="145" height="16.6" fill="#f0f0f0" stroke="#231f20" stroke-width="1.5"/>
<text x="432.2" y="302.6" font-size="10" text-anchor="start" font-weight="normal" fill="#231f20" stroke="#231f20" stroke-width="0.32">GCLC</text>
<rect x="282.3" y="315.8" width="145" height="17.7" fill="#f0f0f0" stroke="#231f20" stroke-width="1.5"/>
<text x="432.2" y="327.4" font-size="10" text-anchor="start" font-weight="normal" fill="#231f20" stroke="#231f20" stroke-width="0.32">NQO1</text>
<rect x="282.3" y="338.5" width="145" height="16.7" fill="#f0f0f0" stroke="#231f20" stroke-width="1.5"/>
<text x="432.2" y="349.8" font-size="10" text-anchor="start" font-weight="normal" fill="#231f20" stroke="#231f20" stroke-width="0.32">CAT</text>
<rect x="282.3" y="359.6" width="145" height="16.7" fill="#f0f0f0" stroke="#231f20" stroke-width="1.5"/>
<text x="432.2" y="371" font-size="10" text-anchor="start" font-weight="normal" fill="#231f20" stroke="#231f20" stroke-width="0.32">β-actin</text>
<path d="M285.6,278 C286.59,276.95 287.58,276.95 290.55,276.95 L300.45,276.95 C303.42,276.95 304.41,276.95 305.4,278 C304.41,279.05 303.42,279.05 300.45,279.05 L290.55,279.05 C287.58,279.05 286.59,279.05 285.6,278Z" fill="#0a0a0a" opacity="0.85" filter="url(#bb)"/>
<path d="M308.8,278 C309.81,276.95 310.82,276.95 313.85,276.95 L323.95,276.95 C326.98,276.95 327.99,276.95 329,278 C327.99,279.05 326.98,279.05 323.95,279.05 L313.85,279.05 C310.82,279.05 309.81,279.05 308.8,278Z" fill="#0a0a0a" opacity="0.8" filter="url(#bb)"/>
<path d="M332.7,278 C333.69,276.95 334.68,276.95 337.65,276.95 L347.55,276.95 C350.52,276.95 351.51,276.95 352.5,278 C351.51,279.05 350.52,279.05 347.55,279.05 L337.65,279.05 C334.68,279.05 333.69,279.05 332.7,278Z" fill="#0a0a0a" opacity="0.82" filter="url(#bb)"/>
<path d="M356.4,278 C357.35,276.95 358.31,276.95 361.17,276.95 L370.73,276.95 C373.59,276.95 374.55,276.95 375.5,278 C374.55,279.05 373.59,279.05 370.73,279.05 L361.17,279.05 C358.31,279.05 357.35,279.05 356.4,278Z" fill="#0a0a0a" opacity="0.7" filter="url(#bb)"/>
<path d="M379.4,278 C380.38,276.95 381.36,276.95 384.3,276.95 L394.1,276.95 C397.04,276.95 398.02,276.95 399,278 C398.02,279.05 397.04,279.05 394.1,279.05 L384.3,279.05 C381.36,279.05 380.38,279.05 379.4,278Z" fill="#0a0a0a" opacity="0.65" filter="url(#bb)"/>
<path d="M403.3,278 C404.32,276.95 405.35,276.95 408.43,276.95 L418.68,276.95 C421.75,276.95 422.78,276.95 423.8,278 C422.78,279.05 421.75,279.05 418.68,279.05 L408.43,279.05 C405.35,279.05 404.32,279.05 403.3,278Z" fill="#0a0a0a" opacity="0.65" filter="url(#bb)"/>
<path d="M285.6,300.2 C286.59,299.25 287.58,299.25 290.55,299.25 L300.45,299.25 C303.42,299.25 304.41,299.25 305.4,300.2 C304.41,301.15 303.42,301.15 300.45,301.15 L290.55,301.15 C287.58,301.15 286.59,301.15 285.6,300.2Z" fill="#0a0a0a" opacity="0.75" filter="url(#bb)"/>
<path d="M308.8,300.2 C309.81,299.25 310.82,299.25 313.85,299.25 L323.95,299.25 C326.98,299.25 327.99,299.25 329,300.2 C327.99,301.15 326.98,301.15 323.95,301.15 L313.85,301.15 C310.82,301.15 309.81,301.15 308.8,300.2Z" fill="#0a0a0a" opacity="0.75" filter="url(#bb)"/>
<path d="M332.7,300.2 C333.69,299.25 334.68,299.25 337.65,299.25 L347.55,299.25 C350.52,299.25 351.51,299.25 352.5,300.2 C351.51,301.15 350.52,301.15 347.55,301.15 L337.65,301.15 C334.68,301.15 333.69,301.15 332.7,300.2Z" fill="#0a0a0a" opacity="0.78" filter="url(#bb)"/>
<path d="M356.4,300.2 C357.35,299.25 358.31,299.25 361.17,299.25 L370.73,299.25 C373.59,299.25 374.55,299.25 375.5,300.2 C374.55,301.15 373.59,301.15 370.73,301.15 L361.17,301.15 C358.31,301.15 357.35,301.15 356.4,300.2Z" fill="#0a0a0a" opacity="0.55" filter="url(#bb)"/>
<path d="M379.4,300.2 C380.38,299.25 381.36,299.25 384.3,299.25 L394.1,299.25 C397.04,299.25 398.02,299.25 399,300.2 C398.02,301.15 397.04,301.15 394.1,301.15 L384.3,301.15 C381.36,301.15 380.38,301.15 379.4,300.2Z" fill="#0a0a0a" opacity="0.6" filter="url(#bb)"/>
<path d="M403.3,300.2 C404.32,299.25 405.35,299.25 408.43,299.25 L418.68,299.25 C421.75,299.25 422.78,299.25 423.8,300.2 C422.78,301.15 421.75,301.15 418.68,301.15 L408.43,301.15 C405.35,301.15 404.32,301.15 403.3,300.2Z" fill="#0a0a0a" opacity="0.7" filter="url(#bb)" transform="rotate(-4 413.55 300.2)"/>
<path d="M285.6,325 C286.59,322.8 287.58,322.8 290.55,322.8 L300.45,322.8 C303.42,322.8 304.41,322.8 305.4,325 C304.41,327.2 303.42,327.2 300.45,327.2 L290.55,327.2 C287.58,327.2 286.59,327.2 285.6,325Z" fill="#0a0a0a" opacity="1" filter="url(#bb)"/>
<path d="M308.8,325 C309.81,322.8 310.82,322.8 313.85,322.8 L323.95,322.8 C326.98,322.8 327.99,322.8 329,325 C327.99,327.2 326.98,327.2 323.95,327.2 L313.85,327.2 C310.82,327.2 309.81,327.2 308.8,325Z" fill="#0a0a0a" opacity="1" filter="url(#bb)"/>
<path d="M332.7,325 C333.69,322.8 334.68,322.8 337.65,322.8 L347.55,322.8 C350.52,322.8 351.51,322.8 352.5,325 C351.51,327.2 350.52,327.2 347.55,327.2 L337.65,327.2 C334.68,327.2 333.69,327.2 332.7,325Z" fill="#0a0a0a" opacity="1" filter="url(#bb)"/>
<path d="M356.4,325 C357.35,323.4 358.31,323.4 361.17,323.4 L370.73,323.4 C373.59,323.4 374.55,323.4 375.5,325 C374.55,326.6 373.59,326.6 370.73,326.6 L361.17,326.6 C358.31,326.6 357.35,326.6 356.4,325Z" fill="#0a0a0a" opacity="0.55" filter="url(#bb)"/>
<path d="M379.4,325 C380.38,323.4 381.36,323.4 384.3,323.4 L394.1,323.4 C397.04,323.4 398.02,323.4 399,325 C398.02,326.6 397.04,326.6 394.1,326.6 L384.3,326.6 C381.36,326.6 380.38,326.6 379.4,325Z" fill="#0a0a0a" opacity="0.6" filter="url(#bb)"/>
<path d="M403.3,325 C404.32,322.8 405.35,322.8 408.43,322.8 L418.68,322.8 C421.75,322.8 422.78,322.8 423.8,325 C422.78,327.2 421.75,327.2 418.68,327.2 L408.43,327.2 C405.35,327.2 404.32,327.2 403.3,325Z" fill="#0a0a0a" opacity="0.85" filter="url(#bb)" transform="rotate(-4 413.55 325)"/>
<path d="M285.6,347.7 C286.59,345.8 287.58,345.8 290.55,345.8 L300.45,345.8 C303.42,345.8 304.41,345.8 305.4,347.7 C304.41,349.6 303.42,349.6 300.45,349.6 L290.55,349.6 C287.58,349.6 286.59,349.6 285.6,347.7Z" fill="#0a0a0a" opacity="0.9" filter="url(#bb)"/>
<path d="M308.8,347.7 C309.81,345.8 310.82,345.8 313.85,345.8 L323.95,345.8 C326.98,345.8 327.99,345.8 329,347.7 C327.99,349.6 326.98,349.6 323.95,349.6 L313.85,349.6 C310.82,349.6 309.81,349.6 308.8,347.7Z" fill="#0a0a0a" opacity="0.8" filter="url(#bb)"/>
<path d="M332.7,347.7 C333.69,345.8 334.68,345.8 337.65,345.8 L347.55,345.8 C350.52,345.8 351.51,345.8 352.5,347.7 C351.51,349.6 350.52,349.6 347.55,349.6 L337.65,349.6 C334.68,349.6 333.69,349.6 332.7,347.7Z" fill="#0a0a0a" opacity="1" filter="url(#bb)"/>
<path d="M356.4,347.7 C357.35,345.8 358.31,345.8 361.17,345.8 L370.73,345.8 C373.59,345.8 374.55,345.8 375.5,347.7 C374.55,349.6 373.59,349.6 370.73,349.6 L361.17,349.6 C358.31,349.6 357.35,349.6 356.4,347.7Z" fill="#0a0a0a" opacity="0.8" filter="url(#bb)"/>
<path d="M379.4,347.7 C380.38,345.8 381.36,345.8 384.3,345.8 L394.1,345.8 C397.04,345.8 398.02,345.8 399,347.7 C398.02,349.6 397.04,349.6 394.1,349.6 L384.3,349.6 C381.36,349.6 380.38,349.6 379.4,347.7Z" fill="#0a0a0a" opacity="0.65" filter="url(#bb)"/>
<path d="M403.3,347.7 C404.32,345.8 405.35,345.8 408.43,345.8 L418.68,345.8 C421.75,345.8 422.78,345.8 423.8,347.7 C422.78,349.6 421.75,349.6 418.68,349.6 L408.43,349.6 C405.35,349.6 404.32,349.6 403.3,347.7Z" fill="#0a0a0a" opacity="0.8" filter="url(#bb)" transform="rotate(-4 413.55 347.7)"/>
<path d="M285.6,368.2 C286.59,366.1 287.58,366.1 290.55,366.1 L300.45,366.1 C303.42,366.1 304.41,366.1 305.4,368.2 C304.41,370.3 303.42,370.3 300.45,370.3 L290.55,370.3 C287.58,370.3 286.59,370.3 285.6,368.2Z" fill="#0a0a0a" opacity="1" filter="url(#bb)"/>
<path d="M308.8,368.2 C309.81,366.1 310.82,366.1 313.85,366.1 L323.95,366.1 C326.98,366.1 327.99,366.1 329,368.2 C327.99,370.3 326.98,370.3 323.95,370.3 L313.85,370.3 C310.82,370.3 309.81,370.3 308.8,368.2Z" fill="#0a0a0a" opacity="1" filter="url(#bb)"/>
<path d="M332.7,368.2 C333.69,366.1 334.68,366.1 337.65,366.1 L347.55,366.1 C350.52,366.1 351.51,366.1 352.5,368.2 C351.51,370.3 350.52,370.3 347.55,370.3 L337.65,370.3 C334.68,370.3 333.69,370.3 332.7,368.2Z" fill="#0a0a0a" opacity="1" filter="url(#bb)"/>
<path d="M356.4,368.2 C357.35,366.1 358.31,366.1 361.17,366.1 L370.73,366.1 C373.59,366.1 374.55,366.1 375.5,368.2 C374.55,370.3 373.59,370.3 370.73,370.3 L361.17,370.3 C358.31,370.3 357.35,370.3 356.4,368.2Z" fill="#0a0a0a" opacity="1" filter="url(#bb)"/>
<path d="M379.4,368.2 C380.38,365.6 381.36,365.6 384.3,365.6 L394.1,365.6 C397.04,365.6 398.02,365.6 399,368.2 C398.02,370.8 397.04,370.8 394.1,370.8 L384.3,370.8 C381.36,370.8 380.38,370.8 379.4,368.2Z" fill="#0a0a0a" opacity="1" filter="url(#bb)"/>
<path d="M403.3,368.2 C404.32,365.6 405.35,365.6 408.43,365.6 L418.68,365.6 C421.75,365.6 422.78,365.6 423.8,368.2 C422.78,370.8 421.75,370.8 418.68,370.8 L408.43,370.8 C405.35,370.8 404.32,370.8 403.3,368.2Z" fill="#0a0a0a" opacity="1" filter="url(#bb)" transform="rotate(-4 413.55 368.2)"/>
<line x1="326.4" y1="385.4" x2="326.4" y2="453.6" stroke="#231f20" stroke-width="1.5"/>
<line x1="322.8" y1="389" x2="326.4" y2="389" stroke="#231f20" stroke-width="1.5"/>
<text x="319" y="392.6" font-size="10" text-anchor="end" font-weight="normal" fill="#231f20" stroke="#231f20" stroke-width="0.32">1.5</text>
<line x1="322.8" y1="410.27" x2="326.4" y2="410.27" stroke="#231f20" stroke-width="1.5"/>
<text x="319" y="413.87" font-size="10" text-anchor="end" font-weight="normal" fill="#231f20" stroke="#231f20" stroke-width="0.32">1.0</text>
<line x1="322.8" y1="431.53" x2="326.4" y2="431.53" stroke="#231f20" stroke-width="1.5"/>
<text x="319" y="435.13" font-size="10" text-anchor="end" font-weight="normal" fill="#231f20" stroke="#231f20" stroke-width="0.32">0.5</text>
<line x1="322.8" y1="452.8" x2="326.4" y2="452.8" stroke="#231f20" stroke-width="1.5"/>
<text x="319" y="456.4" font-size="10" text-anchor="end" font-weight="normal" fill="#231f20" stroke="#231f20" stroke-width="0.32">0</text>
<line x1="322.8" y1="452.8" x2="456" y2="452.8" stroke="#231f20" stroke-width="1.5"/>
<line x1="337.3" y1="410.42" x2="337.3" y2="406.01" stroke="#231f20" stroke-width="1.6"/>
<line x1="334.12" y1="406.01" x2="340.48" y2="406.01" stroke="#231f20" stroke-width="1.6"/>
<rect x="332" y="409.42" width="10.6" height="43.38" fill="#ad0d35"/>
<line x1="348.45" y1="424.03" x2="348.45" y2="421.33" stroke="#231f20" stroke-width="1.6"/>
<line x1="344.94" y1="421.33" x2="351.96" y2="421.33" stroke="#231f20" stroke-width="1.6"/>
<rect x="342.6" y="423.03" width="11.7" height="29.77" fill="#2c4a80"/>
<text x="348.45" y="418.83" font-size="8" text-anchor="middle" font-weight="normal" fill="#231f20" stroke="#231f20" stroke-width="0.32">*</text>
<line x1="369.3" y1="410.42" x2="369.3" y2="406.01" stroke="#231f20" stroke-width="1.6"/>
<line x1="366.12" y1="406.01" x2="372.48" y2="406.01" stroke="#231f20" stroke-width="1.6"/>
<rect x="364" y="409.42" width="10.6" height="43.38" fill="#ad0d35"/>
<line x1="380.3" y1="423.6" x2="380.3" y2="420.47" stroke="#231f20" stroke-width="1.6"/>
<line x1="376.88" y1="420.47" x2="383.72" y2="420.47" stroke="#231f20" stroke-width="1.6"/>
<rect x="374.6" y="422.6" width="11.4" height="30.2" fill="#2c4a80"/>
<text x="380.3" y="417.97" font-size="8" text-anchor="middle" font-weight="normal" fill="#231f20" stroke="#231f20" stroke-width="0.32">*</text>
<line x1="401.7" y1="410.42" x2="401.7" y2="399.63" stroke="#231f20" stroke-width="1.6"/>
<line x1="398.22" y1="399.63" x2="405.18" y2="399.63" stroke="#231f20" stroke-width="1.6"/>
<rect x="395.9" y="409.42" width="11.6" height="43.38" fill="#ad0d35"/>
<line x1="413.25" y1="436.36" x2="413.25" y2="432.38" stroke="#231f20" stroke-width="1.6"/>
<line x1="409.8" y1="432.38" x2="416.7" y2="432.38" stroke="#231f20" stroke-width="1.6"/>
<rect x="407.5" y="435.36" width="11.5" height="17.44" fill="#2c4a80"/>
<text x="413.25" y="429.88" font-size="8" text-anchor="middle" font-weight="normal" fill="#231f20" stroke="#231f20" stroke-width="0.32">*</text>
<line x1="433.6" y1="410.42" x2="433.6" y2="402.61" stroke="#231f20" stroke-width="1.6"/>
<line x1="430.24" y1="402.61" x2="436.96" y2="402.61" stroke="#231f20" stroke-width="1.6"/>
<rect x="428" y="409.42" width="11.2" height="43.38" fill="#ad0d35"/>
<line x1="445" y1="431.26" x2="445" y2="427.28" stroke="#231f20" stroke-width="1.6"/>
<line x1="441.52" y1="427.28" x2="448.48" y2="427.28" stroke="#231f20" stroke-width="1.6"/>
<rect x="439.2" y="430.26" width="11.6" height="22.54" fill="#2c4a80"/>
<text x="445" y="424.78" font-size="8" text-anchor="middle" font-weight="normal" fill="#231f20" stroke="#231f20" stroke-width="0.32">*</text>
<text x="296.8" y="445.8" font-size="10.5" text-anchor="start" font-weight="normal" fill="#231f20" stroke="#231f20" stroke-width="0.32" transform="rotate(-90 296.8 445.8)" textLength="52.6" lengthAdjust="spacingAndGlyphs">Fold change</text>
<text x="348" y="463.5" font-size="10" text-anchor="end" font-weight="normal" fill="#231f20" stroke="#231f20" stroke-width="0.32" transform="rotate(-45 348 463.5)">HMOX1</text>
<text x="379" y="463.5" font-size="10" text-anchor="end" font-weight="normal" fill="#231f20" stroke="#231f20" stroke-width="0.32" transform="rotate(-45 379 463.5)">GCLC</text>
<text x="414" y="463.5" font-size="10" text-anchor="end" font-weight="normal" fill="#231f20" stroke="#231f20" stroke-width="0.32" transform="rotate(-45 414 463.5)">NQO1</text>
<text x="444.5" y="463.5" font-size="10" text-anchor="end" font-weight="normal" fill="#231f20" stroke="#231f20" stroke-width="0.32" transform="rotate(-45 444.5 463.5)">CAT</text>
<text x="10.8" y="445.9" font-size="15.3" text-anchor="start" font-weight="bold" fill="#231f20" stroke="#231f20" stroke-width="0.5" textLength="8.4" lengthAdjust="spacingAndGlyphs">E</text>
<text x="23.7" y="459.6" font-size="10" text-anchor="start" font-weight="normal" fill="#231f20" stroke="#231f20" stroke-width="0.32">SCD/NRF2<tspan dy="-4.5" font-size="8.3">+/+</tspan></text>
<text x="97.3" y="459.6" font-size="10" text-anchor="start" font-weight="normal" fill="#231f20" stroke="#231f20" stroke-width="0.32">SCD/NRF2<tspan dy="-4.5" font-size="8.3">-/-</tspan></text>
<line x1="23.7" y1="463.5" x2="87.8" y2="463.5" stroke="#231f20" stroke-width="1.8"/>
<line x1="97.3" y1="463.5" x2="161.9" y2="463.5" stroke="#231f20" stroke-width="1.8"/>
<rect x="17.6" y="468" width="144.8" height="16.7" fill="#eeeeee" stroke="#231f20" stroke-width="1.5"/>
<text x="167" y="480.25" font-size="10" text-anchor="start" font-weight="normal" fill="#231f20" stroke="#231f20" stroke-width="0.32">ICAM-1</text>
<rect x="17.6" y="489.6" width="144.8" height="16.8" fill="#efefef" stroke="#231f20" stroke-width="1.5"/>
<text x="167" y="502.9" font-size="10" text-anchor="start" font-weight="normal" fill="#231f20" stroke="#231f20" stroke-width="0.32">VCAM-1</text>
<rect x="17.6" y="512.4" width="144.8" height="17.2" fill="none" stroke="#231f20" stroke-width="1.5"/>
<text x="167" y="524.9" font-size="10" text-anchor="start" font-weight="normal" fill="#231f20" stroke="#231f20" stroke-width="0.32">VEGF-A</text>
<rect x="17.6" y="529.6" width="144.8" height="16.7" fill="#f2f2f2" stroke="#231f20" stroke-width="1.5"/>
<text x="167" y="542.85" font-size="10" text-anchor="start" font-weight="normal" fill="#231f20" stroke="#231f20" stroke-width="0.32">β-actin</text>
<g clip-path="url(#cvegf)">
<rect x="17.6" y="512.4" width="144.8" height="17.2" fill="#a2a2a2"/>
<rect x="17.6" y="525.5" width="144.8" height="4.5" fill="#bdbdbd" filter="url(#b15)"/>
<rect x="20.3" y="515" width="19" height="9.5" rx="3" fill="#2e2e2e" opacity="0.8" filter="url(#b15)"/>
<rect x="43.8" y="515" width="19.2" height="9.5" rx="3" fill="#2e2e2e" opacity="0.8" filter="url(#b15)"/>
<rect x="67.3" y="515" width="19.2" height="9.5" rx="3" fill="#2e2e2e" opacity="0.8" filter="url(#b15)"/>
<rect x="90.8" y="515" width="19.2" height="9.5" rx="3" fill="#2e2e2e" opacity="0.8" filter="url(#b15)"/>
<rect x="114.3" y="515" width="19.2" height="9.5" rx="3" fill="#2e2e2e" opacity="0.8" filter="url(#b15)"/>
<rect x="137.8" y="515" width="20" height="9.5" rx="3" fill="#2e2e2e" opacity="0.8" filter="url(#b15)"/>
</g>
<rect x="17.6" y="512.4" width="144.8" height="17.2" fill="none" stroke="#231f20" stroke-width="1.5"/>
<path d="M20.5,477.1 C21.41,475.8 22.31,475.8 25.02,475.8 L34.08,475.8 C36.79,475.8 37.7,475.8 38.6,477.1 C37.7,478.4 36.79,478.4 34.08,478.4 L25.02,478.4 C22.31,478.4 21.41,478.4 20.5,477.1Z" fill="#0a0a0a" opacity="0.8" filter="url(#bb)"/>
<path d="M44.3,477.1 C45.28,475.8 46.27,475.8 49.22,475.8 L59.08,475.8 C62.03,475.8 63.02,475.8 64,477.1 C63.02,478.4 62.03,478.4 59.08,478.4 L49.22,478.4 C46.27,478.4 45.28,478.4 44.3,477.1Z" fill="#0a0a0a" opacity="0.7" filter="url(#bb)"/>
<path d="M69.8,477.1 C70.83,475.8 71.85,475.8 74.92,475.8 L85.17,475.8 C88.25,475.8 89.27,475.8 90.3,477.1 C89.27,478.4 88.25,478.4 85.17,478.4 L74.92,478.4 C71.85,478.4 70.83,478.4 69.8,477.1Z" fill="#0a0a0a" opacity="0.75" filter="url(#bb)"/>
<path d="M94.5,477.1 C95.45,475.8 96.4,475.8 99.25,475.8 L108.75,475.8 C111.6,475.8 112.55,475.8 113.5,477.1 C112.55,478.4 111.6,478.4 108.75,478.4 L99.25,478.4 C96.4,478.4 95.45,478.4 94.5,477.1Z" fill="#0a0a0a" opacity="0.8" filter="url(#bb)"/>
<path d="M117.4,477.1 C118.33,475.8 119.26,475.8 122.05,475.8 L131.35,475.8 C134.14,475.8 135.07,475.8 136,477.1 C135.07,478.4 134.14,478.4 131.35,478.4 L122.05,478.4 C119.26,478.4 118.33,478.4 117.4,477.1Z" fill="#0a0a0a" opacity="0.95" filter="url(#bb)"/>
<path d="M139.6,477.1 C140.59,475.8 141.58,475.8 144.55,475.8 L154.45,475.8 C157.42,475.8 158.41,475.8 159.4,477.1 C158.41,478.4 157.42,478.4 154.45,478.4 L144.55,478.4 C141.58,478.4 140.59,478.4 139.6,477.1Z" fill="#0a0a0a" opacity="1" filter="url(#bb)"/>
<path d="M20.5,497.6 C21.41,496.1 22.31,496.1 25.02,496.1 L34.08,496.1 C36.79,496.1 37.7,496.1 38.6,497.6 C37.7,499.1 36.79,499.1 34.08,499.1 L25.02,499.1 C22.31,499.1 21.41,499.1 20.5,497.6Z" fill="#0a0a0a" opacity="0.3" filter="url(#bb)"/>
<path d="M44.3,497.6 C45.28,496.1 46.27,496.1 49.22,496.1 L59.08,496.1 C62.03,496.1 63.02,496.1 64,497.6 C63.02,499.1 62.03,499.1 59.08,499.1 L49.22,499.1 C46.27,499.1 45.28,499.1 44.3,497.6Z" fill="#0a0a0a" opacity="0.3" filter="url(#bb)"/>
<path d="M69.8,497.6 C70.83,496.1 71.85,496.1 74.92,496.1 L85.17,496.1 C88.25,496.1 89.27,496.1 90.3,497.6 C89.27,499.1 88.25,499.1 85.17,499.1 L74.92,499.1 C71.85,499.1 70.83,499.1 69.8,497.6Z" fill="#0a0a0a" opacity="0.3" filter="url(#bb)"/>
<path d="M94.5,497.6 C95.45,496.1 96.4,496.1 99.25,496.1 L108.75,496.1 C111.6,496.1 112.55,496.1 113.5,497.6 C112.55,499.1 111.6,499.1 108.75,499.1 L99.25,499.1 C96.4,499.1 95.45,499.1 94.5,497.6Z" fill="#0a0a0a" opacity="0.6" filter="url(#bb)"/>
<path d="M117.4,497.6 C118.33,496.1 119.26,496.1 122.05,496.1 L131.35,496.1 C134.14,496.1 135.07,496.1 136,497.6 C135.07,499.1 134.14,499.1 131.35,499.1 L122.05,499.1 C119.26,499.1 118.33,499.1 117.4,497.6Z" fill="#0a0a0a" opacity="0.5" filter="url(#bb)"/>
<path d="M139.6,497.6 C140.59,496.1 141.58,496.1 144.55,496.1 L154.45,496.1 C157.42,496.1 158.41,496.1 159.4,497.6 C158.41,499.1 157.42,499.1 154.45,499.1 L144.55,499.1 C141.58,499.1 140.59,499.1 139.6,497.6Z" fill="#0a0a0a" opacity="0.45" filter="url(#bb)"/>
<path d="M19.8,540.5 C20.8,538.4 21.8,538.4 24.8,538.4 L34.8,538.4 C37.8,538.4 38.8,538.4 39.8,540.5 C38.8,542.6 37.8,542.6 34.8,542.6 L24.8,542.6 C21.8,542.6 20.8,542.6 19.8,540.5Z" fill="#0a0a0a" opacity="1" filter="url(#bb)"/>
<path d="M43.3,540.5 C44.31,538.4 45.32,538.4 48.35,538.4 L58.45,538.4 C61.48,538.4 62.49,538.4 63.5,540.5 C62.49,542.6 61.48,542.6 58.45,542.6 L48.35,542.6 C45.32,542.6 44.31,542.6 43.3,540.5Z" fill="#0a0a0a" opacity="1" filter="url(#bb)"/>
<path d="M66.8,540.5 C67.81,538.4 68.82,538.4 71.85,538.4 L81.95,538.4 C84.98,538.4 85.99,538.4 87,540.5 C85.99,542.6 84.98,542.6 81.95,542.6 L71.85,542.6 C68.82,542.6 67.81,542.6 66.8,540.5Z" fill="#0a0a0a" opacity="1" filter="url(#bb)"/>
<path d="M90.3,540.5 C91.31,538.4 92.32,538.4 95.35,538.4 L105.45,538.4 C108.48,538.4 109.49,538.4 110.5,540.5 C109.49,542.6 108.48,542.6 105.45,542.6 L95.35,542.6 C92.32,542.6 91.31,542.6 90.3,540.5Z" fill="#0a0a0a" opacity="1" filter="url(#bb)"/>
<path d="M113.8,540.5 C114.81,537.75 115.82,537.75 118.85,537.75 L128.95,537.75 C131.98,537.75 132.99,537.75 134,540.5 C132.99,543.25 131.98,543.25 128.95,543.25 L118.85,543.25 C115.82,543.25 114.81,543.25 113.8,540.5Z" fill="#0a0a0a" opacity="1" filter="url(#bb)"/>
<path d="M137.3,540.5 C138.35,537.75 139.4,537.75 142.55,537.75 L153.05,537.75 C156.2,537.75 157.25,537.75 158.3,540.5 C157.25,543.25 156.2,543.25 153.05,543.25 L142.55,543.25 C139.4,543.25 138.35,543.25 137.3,540.5Z" fill="#0a0a0a" opacity="1" filter="url(#bb)" transform="rotate(-4 147.8 540.5)"/>
<line x1="60.1" y1="550.8" x2="60.1" y2="619.2" stroke="#231f20" stroke-width="1.5"/>
<line x1="56.5" y1="554.6" x2="60.1" y2="554.6" stroke="#231f20" stroke-width="1.5"/>
<text x="51" y="558.2" font-size="10" text-anchor="end" font-weight="normal" fill="#231f20" stroke="#231f20" stroke-width="0.32">3</text>
<line x1="56.5" y1="575.87" x2="60.1" y2="575.87" stroke="#231f20" stroke-width="1.5"/>
<text x="51" y="579.47" font-size="10" text-anchor="end" font-weight="normal" fill="#231f20" stroke="#231f20" stroke-width="0.32">2</text>
<line x1="56.5" y1="597.13" x2="60.1" y2="597.13" stroke="#231f20" stroke-width="1.5"/>
<text x="51" y="600.73" font-size="10" text-anchor="end" font-weight="normal" fill="#231f20" stroke="#231f20" stroke-width="0.32">1</text>
<line x1="56.5" y1="618.4" x2="60.1" y2="618.4" stroke="#231f20" stroke-width="1.5"/>
<text x="51" y="622" font-size="10" text-anchor="end" font-weight="normal" fill="#231f20" stroke="#231f20" stroke-width="0.32">0</text>
<line x1="56.5" y1="618.4" x2="167" y2="618.4" stroke="#231f20" stroke-width="1.5"/>
<line x1="72.05" y1="598.13" x2="72.05" y2="595.01" stroke="#231f20" stroke-width="1.6"/>
<line x1="68.3" y1="595.01" x2="75.8" y2="595.01" stroke="#231f20" stroke-width="1.6"/>
<rect x="65.8" y="597.13" width="12.5" height="21.27" fill="#ad0d35"/>
<line x1="84.5" y1="582.82" x2="84.5" y2="580.12" stroke="#231f20" stroke-width="1.6"/>
<line x1="80.78" y1="580.12" x2="88.22" y2="580.12" stroke="#231f20" stroke-width="1.6"/>
<rect x="78.3" y="581.82" width="12.4" height="36.58" fill="#2c4a80"/>
<text x="84.5" y="577.62" font-size="8" text-anchor="middle" font-weight="normal" fill="#231f20" stroke="#231f20" stroke-width="0.32">*</text>
<line x1="107.5" y1="598.13" x2="107.5" y2="595.43" stroke="#231f20" stroke-width="1.6"/>
<line x1="103.78" y1="595.43" x2="111.22" y2="595.43" stroke="#231f20" stroke-width="1.6"/>
<rect x="101.3" y="597.13" width="12.4" height="21.27" fill="#ad0d35"/>
<line x1="120.2" y1="576.87" x2="120.2" y2="569.49" stroke="#231f20" stroke-width="1.6"/>
<line x1="116.3" y1="569.49" x2="124.1" y2="569.49" stroke="#231f20" stroke-width="1.6"/>
<rect x="113.7" y="575.87" width="13" height="42.53" fill="#2c4a80"/>
<text x="120.2" y="566.99" font-size="8" text-anchor="middle" font-weight="normal" fill="#231f20" stroke="#231f20" stroke-width="0.32">*</text>
<line x1="143.75" y1="598.13" x2="143.75" y2="595.43" stroke="#231f20" stroke-width="1.6"/>
<line x1="140.12" y1="595.43" x2="147.38" y2="595.43" stroke="#231f20" stroke-width="1.6"/>
<rect x="137.7" y="597.13" width="12.1" height="21.27" fill="#ad0d35"/>
<line x1="156" y1="601.11" x2="156" y2="599.47" stroke="#231f20" stroke-width="1.6"/>
<line x1="152.28" y1="599.47" x2="159.72" y2="599.47" stroke="#231f20" stroke-width="1.6"/>
<rect x="149.8" y="600.11" width="12.4" height="18.29" fill="#2c4a80"/>
<text x="38.8" y="611" font-size="10.5" text-anchor="start" font-weight="normal" fill="#231f20" stroke="#231f20" stroke-width="0.32" transform="rotate(-90 38.8 611)" textLength="52" lengthAdjust="spacingAndGlyphs">Fold change</text>
<text x="80.5" y="628.5" font-size="10" text-anchor="end" font-weight="normal" fill="#231f20" stroke="#231f20" stroke-width="0.32" transform="rotate(-45 80.5 628.5)">ICAM-1</text>
<text x="118.5" y="628" font-size="10" text-anchor="end" font-weight="normal" fill="#231f20" stroke="#231f20" stroke-width="0.32" transform="rotate(-45 118.5 628)">VCAM-1</text>
<text x="155" y="627.5" font-size="10" text-anchor="end" font-weight="normal" fill="#231f20" stroke="#231f20" stroke-width="0.32" transform="rotate(-45 155 627.5)">VEGF-A</text>
<text x="254.1" y="512.4" font-size="15.3" text-anchor="start" font-weight="bold" fill="#231f20" stroke="#231f20" stroke-width="0.5" textLength="7.4" lengthAdjust="spacingAndGlyphs">F</text>
<line x1="303.4" y1="514" x2="303.4" y2="639.3" stroke="#231f20" stroke-width="1.4"/>
<line x1="300" y1="638.5" x2="303.4" y2="638.5" stroke="#231f20" stroke-width="1.3"/>
<text x="297" y="641.7" font-size="9" text-anchor="end" font-weight="normal" fill="#231f20" stroke="#231f20" stroke-width="0.32">0</text>
<line x1="300" y1="614.32" x2="303.4" y2="614.32" stroke="#231f20" stroke-width="1.3"/>
<text x="297" y="617.52" font-size="9" text-anchor="end" font-weight="normal" fill="#231f20" stroke="#231f20" stroke-width="0.32">1</text>
<line x1="300" y1="590.14" x2="303.4" y2="590.14" stroke="#231f20" stroke-width="1.3"/>
<text x="297" y="593.34" font-size="9" text-anchor="end" font-weight="normal" fill="#231f20" stroke="#231f20" stroke-width="0.32">2</text>
<line x1="300" y1="565.96" x2="303.4" y2="565.96" stroke="#231f20" stroke-width="1.3"/>
<text x="297" y="569.16" font-size="9" text-anchor="end" font-weight="normal" fill="#231f20" stroke="#231f20" stroke-width="0.32">3</text>
<line x1="300" y1="541.78" x2="303.4" y2="541.78" stroke="#231f20" stroke-width="1.3"/>
<text x="297" y="544.98" font-size="9" text-anchor="end" font-weight="normal" fill="#231f20" stroke="#231f20" stroke-width="0.32">4</text>
<line x1="300" y1="517.6" x2="303.4" y2="517.6" stroke="#231f20" stroke-width="1.3"/>
<text x="297" y="520.8" font-size="9" text-anchor="end" font-weight="normal" fill="#231f20" stroke="#231f20" stroke-width="0.32">5</text>
<line x1="300" y1="638.5" x2="475.2" y2="638.5" stroke="#231f20" stroke-width="1.4"/>
<line x1="345.2" y1="638.5" x2="345.2" y2="641.5" stroke="#231f20" stroke-width="1.3"/>
<line x1="387.5" y1="638.5" x2="387.5" y2="641.5" stroke="#231f20" stroke-width="1.3"/>
<line x1="429.3" y1="638.5" x2="429.3" y2="641.5" stroke="#231f20" stroke-width="1.3"/>
<line x1="471" y1="638.5" x2="471" y2="641.5" stroke="#231f20" stroke-width="1.3"/>
<line x1="311.95" y1="625.96" x2="311.95" y2="621.57" stroke="#231f20" stroke-width="1.3"/>
<line x1="308.45" y1="621.57" x2="315.45" y2="621.57" stroke="#231f20" stroke-width="1.3"/>
<rect x="306.2" y="624.96" width="11.5" height="13.54" fill="#ad0d35"/>
<line x1="325" y1="614.59" x2="325" y2="608.27" stroke="#231f20" stroke-width="1.3"/>
<line x1="321.5" y1="608.27" x2="328.5" y2="608.27" stroke="#231f20" stroke-width="1.3"/>
<rect x="319.6" y="613.59" width="10.8" height="24.91" fill="#2c4a80"/>
<line x1="337.8" y1="595.98" x2="337.8" y2="591.35" stroke="#231f20" stroke-width="1.3"/>
<line x1="334.3" y1="591.35" x2="341.3" y2="591.35" stroke="#231f20" stroke-width="1.3"/>
<rect x="332.3" y="594.98" width="11" height="43.52" fill="#6aa843"/>
<line x1="353.7" y1="629.59" x2="353.7" y2="625.93" stroke="#231f20" stroke-width="1.3"/>
<line x1="350.2" y1="625.93" x2="357.2" y2="625.93" stroke="#231f20" stroke-width="1.3"/>
<rect x="347.9" y="628.59" width="11.6" height="9.91" fill="#ad0d35"/>
<line x1="367.05" y1="614.59" x2="367.05" y2="604.16" stroke="#231f20" stroke-width="1.3"/>
<line x1="363.55" y1="604.16" x2="370.55" y2="604.16" stroke="#231f20" stroke-width="1.3"/>
<rect x="361.4" y="613.59" width="11.3" height="24.91" fill="#2c4a80"/>
<line x1="379.95" y1="591.14" x2="379.95" y2="578.78" stroke="#231f20" stroke-width="1.3"/>
<line x1="376.45" y1="578.78" x2="383.45" y2="578.78" stroke="#231f20" stroke-width="1.3"/>
<rect x="374.3" y="590.14" width="11.3" height="48.36" fill="#6aa843"/>
<line x1="395.4" y1="624.27" x2="395.4" y2="619.64" stroke="#231f20" stroke-width="1.3"/>
<line x1="391.9" y1="619.64" x2="398.9" y2="619.64" stroke="#231f20" stroke-width="1.3"/>
<rect x="389.6" y="623.27" width="11.6" height="15.23" fill="#ad0d35"/>
<line x1="408.5" y1="614.59" x2="408.5" y2="611.18" stroke="#231f20" stroke-width="1.3"/>
<line x1="405" y1="611.18" x2="412" y2="611.18" stroke="#231f20" stroke-width="1.3"/>
<rect x="403.1" y="613.59" width="10.8" height="24.91" fill="#2c4a80"/>
<line x1="421.65" y1="597.91" x2="421.65" y2="590.14" stroke="#231f20" stroke-width="1.3"/>
<line x1="418.15" y1="590.14" x2="425.15" y2="590.14" stroke="#231f20" stroke-width="1.3"/>
<rect x="416" y="596.91" width="11.3" height="41.59" fill="#6aa843"/>
<line x1="437.5" y1="620.16" x2="437.5" y2="615.05" stroke="#231f20" stroke-width="1.3"/>
<line x1="434" y1="615.05" x2="441" y2="615.05" stroke="#231f20" stroke-width="1.3"/>
<rect x="431.9" y="619.16" width="11.2" height="19.34" fill="#ad0d35"/>
<line x1="450.5" y1="614.59" x2="450.5" y2="608.03" stroke="#231f20" stroke-width="1.3"/>
<line x1="447" y1="608.03" x2="454" y2="608.03" stroke="#231f20" stroke-width="1.3"/>
<rect x="445.1" y="613.59" width="10.8" height="24.91" fill="#2c4a80"/>
<line x1="463.7" y1="571.07" x2="463.7" y2="524.85" stroke="#231f20" stroke-width="1.3"/>
<line x1="460.2" y1="524.85" x2="467.2" y2="524.85" stroke="#231f20" stroke-width="1.3"/>
<rect x="458.2" y="570.07" width="11" height="68.43" fill="#6aa843"/>
<line x1="310.4" y1="590" x2="327.1" y2="590" stroke="#231f20" stroke-width="1.3"/>
<text x="318.5" y="587.5" font-size="8" text-anchor="middle" font-weight="normal" fill="#231f20" stroke="#231f20" stroke-width="0.32">*</text>
<line x1="322.3" y1="573" x2="339.2" y2="573" stroke="#231f20" stroke-width="1.3"/>
<text x="330.6" y="570.5" font-size="8" text-anchor="middle" font-weight="normal" fill="#231f20" stroke="#231f20" stroke-width="0.32">*</text>
<line x1="350" y1="588.2" x2="367" y2="588.2" stroke="#231f20" stroke-width="1.3"/>
<text x="358.6" y="585.7" font-size="8" text-anchor="middle" font-weight="normal" fill="#231f20" stroke="#231f20" stroke-width="0.32">*</text>
<line x1="362" y1="564.5" x2="378.8" y2="564.5" stroke="#231f20" stroke-width="1.3"/>
<text x="370.2" y="562" font-size="8" text-anchor="middle" font-weight="normal" fill="#231f20" stroke="#231f20" stroke-width="0.32">*</text>
<line x1="391" y1="589.6" x2="407" y2="589.6" stroke="#231f20" stroke-width="1.3"/>
<text x="399.9" y="587.1" font-size="8" text-anchor="middle" font-weight="normal" fill="#231f20" stroke="#231f20" stroke-width="0.32">*</text>
<line x1="406.3" y1="573.5" x2="423.3" y2="573.5" stroke="#231f20" stroke-width="1.3"/>
<text x="414.4" y="571" font-size="8" text-anchor="middle" font-weight="normal" fill="#231f20" stroke="#231f20" stroke-width="0.32">*</text>
<text x="284.3" y="602.7" font-size="9.5" text-anchor="start" font-weight="normal" fill="#231f20" stroke="#231f20" stroke-width="0.32" transform="rotate(-90 284.3 602.7)" textLength="52.5" lengthAdjust="spacingAndGlyphs">Fold change</text>
<text x="325.2" y="655.2" font-size="9.3" text-anchor="middle" font-weight="normal" fill="#231f20" stroke="#231f20" stroke-width="0.32">IL-1β</text>
<text x="366.6" y="655.2" font-size="9.3" text-anchor="middle" font-weight="normal" fill="#231f20" stroke="#231f20" stroke-width="0.32">IL-6</text>
<text x="407" y="655.2" font-size="9.3" text-anchor="middle" font-weight="normal" fill="#231f20" stroke="#231f20" stroke-width="0.32">TNFα</text>
<text x="450" y="655.2" font-size="9.3" text-anchor="middle" font-weight="normal" fill="#231f20" stroke="#231f20" stroke-width="0.32">IL-10</text>
<rect x="1" y="1" width="518" height="665" fill="none" stroke="#000" stroke-width="2"/>
</svg></div></body></html>
